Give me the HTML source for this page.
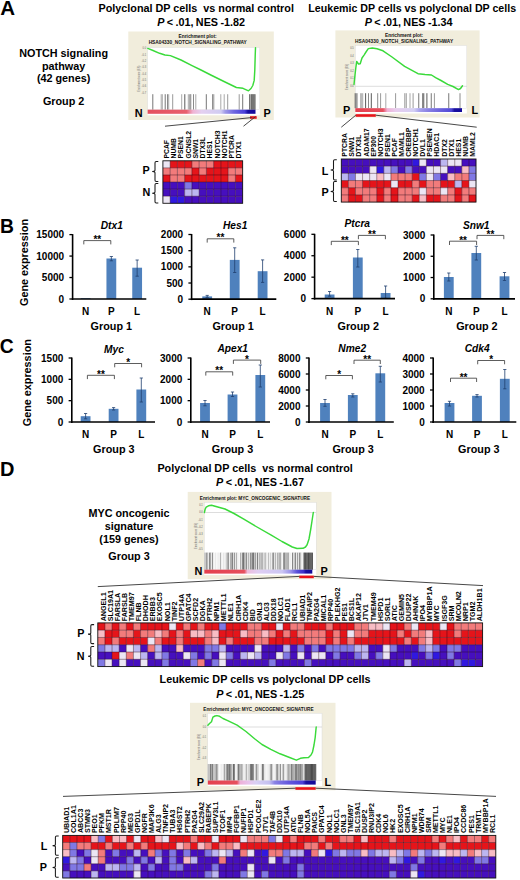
<!DOCTYPE html>
<html><head><meta charset="utf-8"><style>
html,body{margin:0;padding:0;background:#fff;}
svg{display:block;font-family:"Liberation Sans", sans-serif;}
</style></head><body>
<svg width="520" height="880" viewBox="0 0 520 880">
<rect x="0" y="0" width="520" height="880" fill="#fff"/>
<text x="0.20" y="14.50" font-size="20.5" font-weight="bold" text-anchor="start" fill="#000">A</text>
<text x="0.00" y="233.30" font-size="19.3" font-weight="bold" text-anchor="start" fill="#000">B</text>
<text x="-0.20" y="352.80" font-size="19.3" font-weight="bold" text-anchor="start" fill="#000">C</text>
<text x="0.00" y="475.90" font-size="20" font-weight="bold" text-anchor="start" fill="#000">D</text>
<text x="196.20" y="12.20" font-size="10.8" font-weight="bold" text-anchor="middle" fill="#000" xml:space="preserve">Polyclonal DP cells  vs normal control</text>
<text x="201.1" y="26.2" font-size="10.8" font-weight="bold" text-anchor="middle" word-spacing="-0.6"><tspan font-style="italic">P</tspan> &lt; .01, NES -1.82</text>
<text x="412.20" y="12.20" font-size="10.65" font-weight="bold" text-anchor="middle" fill="#000">Leukemic DP cells vs polyclonal DP cells</text>
<text x="408.6" y="26.2" font-size="10.8" font-weight="bold" text-anchor="middle" word-spacing="-0.6"><tspan font-style="italic">P</tspan> &lt; .01, NES -1.34</text>
<text x="63.60" y="57.30" font-size="10.8" font-weight="bold" text-anchor="middle" fill="#000">NOTCH signaling</text>
<text x="63.60" y="69.80" font-size="10.8" font-weight="bold" text-anchor="middle" fill="#000">pathway</text>
<text x="63.60" y="82.30" font-size="10.8" font-weight="bold" text-anchor="middle" fill="#000">(42 genes)</text>
<text x="63.60" y="104.50" font-size="10.8" font-weight="bold" text-anchor="middle" fill="#000">Group 2</text>
<rect x="128.30" y="31.50" width="145.50" height="88.50" fill="#f1eddc"/>
<rect x="147.60" y="47.50" width="112.20" height="67.80" fill="#ffffff"/>
<rect x="147.60" y="47.50" width="112.20" height="62.20" fill="none" stroke="#d8d8d8" stroke-width="0.4"/>
<text x="197.65" y="38.00" font-size="4.8" font-weight="bold" text-anchor="middle" fill="#111">Enrichment plot:</text>
<text x="197.65" y="44.40" font-size="4.8" font-weight="bold" text-anchor="middle" fill="#111">HSA04330_NOTCH_SIGNALING_PATHWAY</text>
<text x="146.10" y="49.40" font-size="2.6" font-weight="normal" text-anchor="end" fill="#666">0.0</text>
<text x="146.10" y="55.70" font-size="2.6" font-weight="normal" text-anchor="end" fill="#666">-0.1</text>
<text x="146.10" y="62.00" font-size="2.6" font-weight="normal" text-anchor="end" fill="#666">-0.2</text>
<text x="146.10" y="68.30" font-size="2.6" font-weight="normal" text-anchor="end" fill="#666">-0.3</text>
<text x="146.10" y="74.60" font-size="2.6" font-weight="normal" text-anchor="end" fill="#666">-0.4</text>
<text x="146.10" y="80.90" font-size="2.6" font-weight="normal" text-anchor="end" fill="#666">-0.5</text>
<text x="146.10" y="87.20" font-size="2.6" font-weight="normal" text-anchor="end" fill="#666">-0.6</text>
<text x="146.10" y="93.50" font-size="2.6" font-weight="normal" text-anchor="end" fill="#666">-0.7</text>
<text x="140.10" y="78.60" font-size="2.6" font-weight="normal" text-anchor="middle" fill="#666" transform="rotate(-90 140.10 78.60)">Enrichment score (ES)</text>
<rect x="152.30" y="94.20" width="1.00" height="15.50" fill="#777"/>
<rect x="160.70" y="94.20" width="1.00" height="15.50" fill="#aaa"/>
<rect x="161.80" y="94.20" width="1.00" height="15.50" fill="#aaa"/>
<rect x="164.70" y="94.20" width="1.00" height="15.50" fill="#777"/>
<rect x="167.00" y="94.20" width="1.00" height="15.50" fill="#8a8a8a"/>
<rect x="168.20" y="94.20" width="1.00" height="15.50" fill="#aaa"/>
<rect x="172.20" y="94.20" width="1.00" height="15.50" fill="#9a9a9a"/>
<rect x="181.20" y="94.20" width="1.00" height="15.50" fill="#aaa"/>
<rect x="184.30" y="94.20" width="1.00" height="15.50" fill="#5a5a5a"/>
<rect x="187.80" y="94.20" width="1.00" height="15.50" fill="#aaa"/>
<rect x="189.50" y="94.20" width="1.00" height="15.50" fill="#5a5a5a"/>
<rect x="190.30" y="94.20" width="1.00" height="15.50" fill="#9a9a9a"/>
<rect x="193.00" y="94.20" width="1.00" height="15.50" fill="#8a8a8a"/>
<rect x="195.30" y="94.20" width="1.00" height="15.50" fill="#aaa"/>
<rect x="205.80" y="94.20" width="1.00" height="15.50" fill="#777"/>
<rect x="212.20" y="94.20" width="1.00" height="15.50" fill="#777"/>
<rect x="213.30" y="94.20" width="1.00" height="15.50" fill="#9a9a9a"/>
<rect x="220.30" y="94.20" width="1.00" height="15.50" fill="#aaa"/>
<rect x="223.70" y="94.20" width="1.00" height="15.50" fill="#aaa"/>
<rect x="227.20" y="94.20" width="1.00" height="15.50" fill="#9a9a9a"/>
<rect x="238.70" y="94.20" width="1.00" height="15.50" fill="#9a9a9a"/>
<rect x="242.20" y="94.20" width="1.00" height="15.50" fill="#777"/>
<rect x="249.00" y="94.20" width="1.00" height="15.50" fill="#777"/>
<rect x="250.50" y="94.20" width="1.00" height="15.50" fill="#555"/>
<rect x="251.50" y="94.20" width="1.00" height="15.50" fill="#333"/>
<rect x="252.50" y="94.20" width="1.00" height="15.50" fill="#555"/>
<rect x="253.50" y="94.20" width="1.00" height="15.50" fill="#444"/>
<rect x="254.50" y="94.20" width="1.00" height="15.50" fill="#555"/>
<defs><linearGradient id="g1314" x1="0" x2="1" y1="0" y2="0"><stop offset="0" stop-color="#e4505e"/><stop offset="0.36" stop-color="#e8606e"/><stop offset="0.42" stop-color="#f0b4d4"/><stop offset="0.5" stop-color="#e4d0f0"/><stop offset="0.68" stop-color="#d0ccf2"/><stop offset="0.72" stop-color="#a09ae8"/><stop offset="0.8" stop-color="#7068e0"/><stop offset="0.9" stop-color="#4a40d8"/><stop offset="0.93" stop-color="#1a10a0"/><stop offset="1" stop-color="#12089a"/></linearGradient></defs>
<rect x="147.60" y="109.70" width="107.90" height="4.10" fill="url(#g1314)"/>
<polyline points="147.80,48.40 153.00,50.50 159.60,53.30 165.00,55.00 170.40,55.60 181.00,60.00 192.00,65.60 201.00,70.00 210.80,75.00 224.00,81.50 236.40,87.50 243.00,88.30 248.50,90.80 251.00,88.50 252.80,85.50 254.20,80.40 254.80,70.00 255.20,56.00 255.50,47.80" fill="none" stroke="#3ada3a" stroke-width="1.45" stroke-linejoin="round" stroke-linecap="round"/>
<text x="134.80" y="116.70" font-size="10.9" font-weight="bold" text-anchor="start" fill="#000">N</text>
<text x="263.40" y="116.50" font-size="10.9" font-weight="bold" text-anchor="start" fill="#000">P</text>
<rect x="250.00" y="116.20" width="6.70" height="2.60" fill="#e8141a"/>
<rect x="335.40" y="30.40" width="144.20" height="87.10" fill="#f1eddc"/>
<rect x="355.30" y="45.50" width="111.50" height="68.00" fill="#ffffff"/>
<rect x="355.30" y="45.50" width="111.50" height="62.70" fill="none" stroke="#d8d8d8" stroke-width="0.4"/>
<text x="404.10" y="36.80" font-size="4.8" font-weight="bold" text-anchor="middle" fill="#111">Enrichment plot:</text>
<text x="404.10" y="43.20" font-size="4.8" font-weight="bold" text-anchor="middle" fill="#111">HSA04330_NOTCH_SIGNALING_PATHWAY</text>
<text x="353.80" y="49.40" font-size="2.6" font-weight="normal" text-anchor="end" fill="#666">0.5</text>
<text x="353.80" y="56.90" font-size="2.6" font-weight="normal" text-anchor="end" fill="#666">0.4</text>
<text x="353.80" y="64.40" font-size="2.6" font-weight="normal" text-anchor="end" fill="#666">0.3</text>
<text x="353.80" y="71.90" font-size="2.6" font-weight="normal" text-anchor="end" fill="#666">0.2</text>
<text x="353.80" y="79.40" font-size="2.6" font-weight="normal" text-anchor="end" fill="#666">0.1</text>
<text x="353.80" y="87.20" font-size="2.6" font-weight="normal" text-anchor="end" fill="#666">0.0</text>
<text x="347.80" y="76.85" font-size="2.6" font-weight="normal" text-anchor="middle" fill="#666" transform="rotate(-90 347.80 76.85)">Enrichment score (ES)</text>
<line x1="355.30" y1="86.30" x2="466.80" y2="86.30" stroke="#bbbbbb" stroke-width="0.5"/>
<rect x="354.70" y="93.20" width="1.00" height="15.00" fill="#5a5a5a"/>
<rect x="356.40" y="93.20" width="1.00" height="15.00" fill="#5a5a5a"/>
<rect x="360.50" y="93.20" width="1.00" height="15.00" fill="#777"/>
<rect x="362.20" y="93.20" width="1.00" height="15.00" fill="#aaa"/>
<rect x="365.10" y="93.20" width="1.00" height="15.00" fill="#5a5a5a"/>
<rect x="368.00" y="93.20" width="1.00" height="15.00" fill="#8a8a8a"/>
<rect x="370.80" y="93.20" width="1.00" height="15.00" fill="#5a5a5a"/>
<rect x="377.20" y="93.20" width="1.00" height="15.00" fill="#8a8a8a"/>
<rect x="380.10" y="93.20" width="1.00" height="15.00" fill="#9a9a9a"/>
<rect x="385.30" y="93.20" width="1.00" height="15.00" fill="#aaa"/>
<rect x="395.10" y="93.20" width="1.00" height="15.00" fill="#9a9a9a"/>
<rect x="404.30" y="93.20" width="1.00" height="15.00" fill="#9a9a9a"/>
<rect x="405.75" y="93.20" width="1.00" height="15.00" fill="#9a9a9a"/>
<rect x="409.50" y="93.20" width="1.00" height="15.00" fill="#aaa"/>
<rect x="412.60" y="93.20" width="1.00" height="15.00" fill="#9a9a9a"/>
<rect x="418.25" y="93.20" width="1.00" height="15.00" fill="#777"/>
<rect x="422.00" y="93.20" width="1.00" height="15.00" fill="#8a8a8a"/>
<rect x="423.25" y="93.20" width="1.00" height="15.00" fill="#5a5a5a"/>
<rect x="426.40" y="93.20" width="1.00" height="15.00" fill="#5a5a5a"/>
<rect x="430.75" y="93.20" width="1.00" height="15.00" fill="#777"/>
<rect x="433.90" y="93.20" width="1.00" height="15.00" fill="#9a9a9a"/>
<rect x="448.25" y="93.20" width="1.00" height="15.00" fill="#777"/>
<rect x="459.50" y="93.20" width="1.00" height="15.00" fill="#8a8a8a"/>
<defs><linearGradient id="g3384" x1="0" x2="1" y1="0" y2="0"><stop offset="0" stop-color="#e4404e"/><stop offset="0.26" stop-color="#e6505e"/><stop offset="0.3" stop-color="#f0b0d4"/><stop offset="0.38" stop-color="#e8cdee"/><stop offset="0.55" stop-color="#d4d0f4"/><stop offset="0.6" stop-color="#a8a2ec"/><stop offset="0.68" stop-color="#8a82e4"/><stop offset="0.8" stop-color="#6a60dc"/><stop offset="0.9" stop-color="#5048d8"/><stop offset="0.93" stop-color="#1a10a0"/><stop offset="1" stop-color="#12089a"/></linearGradient></defs>
<rect x="355.30" y="108.20" width="106.70" height="3.80" fill="url(#g3384)"/>
<polyline points="354.00,84.40 355.00,75.00 355.80,68.00 356.70,61.50 358.50,64.00 360.20,63.70 362.00,58.00 364.20,54.80 366.00,52.00 368.30,48.60 372.30,48.00 377.00,48.80 383.00,50.80 392.00,57.00 404.60,66.40 418.00,73.70 425.00,74.50 431.50,75.00 435.60,77.70 441.00,80.50 447.70,84.40 453.00,86.50 458.50,89.60 460.50,88.50 462.50,85.80" fill="none" stroke="#3ada3a" stroke-width="1.45" stroke-linejoin="round" stroke-linecap="round"/>
<text x="343.00" y="114.00" font-size="10.9" font-weight="bold" text-anchor="start" fill="#000">P</text>
<text x="471.60" y="113.60" font-size="10.9" font-weight="bold" text-anchor="start" fill="#000">L</text>
<rect x="355.60" y="114.20" width="20.20" height="2.60" fill="#e8141a"/>
<line x1="165.00" y1="126.20" x2="251.60" y2="117.60" stroke="#333" stroke-width="0.9"/>
<line x1="243.50" y1="126.20" x2="255.50" y2="116.60" stroke="#333" stroke-width="0.9"/>
<line x1="341.30" y1="127.20" x2="355.80" y2="115.20" stroke="#333" stroke-width="0.9"/>
<line x1="476.70" y1="127.20" x2="375.80" y2="115.20" stroke="#333" stroke-width="0.9"/>
<g>
<rect x="162.90" y="160.80" width="7.30" height="7.13" fill="#ece6f4"/>
<rect x="170.15" y="160.80" width="7.30" height="7.13" fill="#e5141a"/>
<rect x="177.40" y="160.80" width="7.30" height="7.13" fill="#e5141a"/>
<rect x="184.65" y="160.80" width="7.30" height="7.13" fill="#e5141a"/>
<rect x="191.90" y="160.80" width="7.30" height="7.13" fill="#f27b7b"/>
<rect x="199.15" y="160.80" width="7.30" height="7.13" fill="#f27b7b"/>
<rect x="206.40" y="160.80" width="7.30" height="7.13" fill="#f27b7b"/>
<rect x="213.65" y="160.80" width="7.30" height="7.13" fill="#e5141a"/>
<rect x="220.90" y="160.80" width="7.30" height="7.13" fill="#e5141a"/>
<rect x="228.15" y="160.80" width="7.30" height="7.13" fill="#e5141a"/>
<rect x="235.40" y="160.80" width="7.30" height="7.13" fill="#e5141a"/>
<rect x="162.90" y="167.88" width="7.30" height="7.13" fill="#f27b7b"/>
<rect x="170.15" y="167.88" width="7.30" height="7.13" fill="#f27b7b"/>
<rect x="177.40" y="167.88" width="7.30" height="7.13" fill="#f27b7b"/>
<rect x="184.65" y="167.88" width="7.30" height="7.13" fill="#f27b7b"/>
<rect x="191.90" y="167.88" width="7.30" height="7.13" fill="#e5141a"/>
<rect x="199.15" y="167.88" width="7.30" height="7.13" fill="#f27b7b"/>
<rect x="206.40" y="167.88" width="7.30" height="7.13" fill="#e5141a"/>
<rect x="213.65" y="167.88" width="7.30" height="7.13" fill="#e5141a"/>
<rect x="220.90" y="167.88" width="7.30" height="7.13" fill="#e5141a"/>
<rect x="228.15" y="167.88" width="7.30" height="7.13" fill="#f27b7b"/>
<rect x="235.40" y="167.88" width="7.30" height="7.13" fill="#f27b7b"/>
<rect x="162.90" y="174.96" width="7.30" height="7.13" fill="#e5141a"/>
<rect x="170.15" y="174.96" width="7.30" height="7.13" fill="#f27b7b"/>
<rect x="177.40" y="174.96" width="7.30" height="7.13" fill="#f27b7b"/>
<rect x="184.65" y="174.96" width="7.30" height="7.13" fill="#e5141a"/>
<rect x="191.90" y="174.96" width="7.30" height="7.13" fill="#e5141a"/>
<rect x="199.15" y="174.96" width="7.30" height="7.13" fill="#e5141a"/>
<rect x="206.40" y="174.96" width="7.30" height="7.13" fill="#e5141a"/>
<rect x="213.65" y="174.96" width="7.30" height="7.13" fill="#e5141a"/>
<rect x="220.90" y="174.96" width="7.30" height="7.13" fill="#e5141a"/>
<rect x="228.15" y="174.96" width="7.30" height="7.13" fill="#f27b7b"/>
<rect x="235.40" y="174.96" width="7.30" height="7.13" fill="#e5141a"/>
<rect x="162.90" y="182.04" width="7.30" height="7.13" fill="#460fbe"/>
<rect x="170.15" y="182.04" width="7.30" height="7.13" fill="#460fbe"/>
<rect x="177.40" y="182.04" width="7.30" height="7.13" fill="#460fbe"/>
<rect x="184.65" y="182.04" width="7.30" height="7.13" fill="#8078e4"/>
<rect x="191.90" y="182.04" width="7.30" height="7.13" fill="#460fbe"/>
<rect x="199.15" y="182.04" width="7.30" height="7.13" fill="#460fbe"/>
<rect x="206.40" y="182.04" width="7.30" height="7.13" fill="#460fbe"/>
<rect x="213.65" y="182.04" width="7.30" height="7.13" fill="#460fbe"/>
<rect x="220.90" y="182.04" width="7.30" height="7.13" fill="#460fbe"/>
<rect x="228.15" y="182.04" width="7.30" height="7.13" fill="#460fbe"/>
<rect x="235.40" y="182.04" width="7.30" height="7.13" fill="#460fbe"/>
<rect x="162.90" y="189.12" width="7.30" height="7.13" fill="#460fbe"/>
<rect x="170.15" y="189.12" width="7.30" height="7.13" fill="#460fbe"/>
<rect x="177.40" y="189.12" width="7.30" height="7.13" fill="#460fbe"/>
<rect x="184.65" y="189.12" width="7.30" height="7.13" fill="#bcb6f0"/>
<rect x="191.90" y="189.12" width="7.30" height="7.13" fill="#bcb6f0"/>
<rect x="199.15" y="189.12" width="7.30" height="7.13" fill="#460fbe"/>
<rect x="206.40" y="189.12" width="7.30" height="7.13" fill="#460fbe"/>
<rect x="213.65" y="189.12" width="7.30" height="7.13" fill="#460fbe"/>
<rect x="220.90" y="189.12" width="7.30" height="7.13" fill="#460fbe"/>
<rect x="228.15" y="189.12" width="7.30" height="7.13" fill="#460fbe"/>
<rect x="235.40" y="189.12" width="7.30" height="7.13" fill="#460fbe"/>
<rect x="162.90" y="196.20" width="7.30" height="7.13" fill="#ece6f4"/>
<rect x="170.15" y="196.20" width="7.30" height="7.13" fill="#3018e0"/>
<rect x="177.40" y="196.20" width="7.30" height="7.13" fill="#3018e0"/>
<rect x="184.65" y="196.20" width="7.30" height="7.13" fill="#460fbe"/>
<rect x="191.90" y="196.20" width="7.30" height="7.13" fill="#460fbe"/>
<rect x="199.15" y="196.20" width="7.30" height="7.13" fill="#460fbe"/>
<rect x="206.40" y="196.20" width="7.30" height="7.13" fill="#460fbe"/>
<rect x="213.65" y="196.20" width="7.30" height="7.13" fill="#460fbe"/>
<rect x="220.90" y="196.20" width="7.30" height="7.13" fill="#460fbe"/>
<rect x="228.15" y="196.20" width="7.30" height="7.13" fill="#460fbe"/>
<rect x="235.40" y="196.20" width="7.30" height="7.13" fill="#460fbe"/>
<path d="M170.15,160.80V203.28M177.40,160.80V203.28M184.65,160.80V203.28M191.90,160.80V203.28M199.15,160.80V203.28M206.40,160.80V203.28M213.65,160.80V203.28M220.90,160.80V203.28M228.15,160.80V203.28M235.40,160.80V203.28M162.90,167.88H242.65M162.90,174.96H242.65M162.90,182.04H242.65M162.90,189.12H242.65M162.90,196.20H242.65" stroke="rgba(40,0,20,0.55)" stroke-width="0.75" fill="none"/>
<rect x="162.90" y="160.80" width="79.75" height="42.48" fill="none" stroke="#111" stroke-width="0.9"/>
</g>
<text x="168.97" y="158.50" font-size="6.8" font-weight="bold" text-anchor="start" fill="#000" transform="rotate(-90 168.97 158.50)">PCAF</text>
<text x="176.22" y="158.50" font-size="6.8" font-weight="bold" text-anchor="start" fill="#000" transform="rotate(-90 176.22 158.50)">NUMB</text>
<text x="183.47" y="158.50" font-size="6.8" font-weight="bold" text-anchor="start" fill="#000" transform="rotate(-90 183.47 158.50)">PSEN1</text>
<text x="190.72" y="158.50" font-size="6.8" font-weight="bold" text-anchor="start" fill="#000" transform="rotate(-90 190.72 158.50)">GCNSL2</text>
<text x="197.97" y="158.50" font-size="6.8" font-weight="bold" text-anchor="start" fill="#000" transform="rotate(-90 197.97 158.50)">SNW1</text>
<text x="205.22" y="158.50" font-size="6.8" font-weight="bold" text-anchor="start" fill="#000" transform="rotate(-90 205.22 158.50)">DTX3L</text>
<text x="212.47" y="158.50" font-size="6.8" font-weight="bold" text-anchor="start" fill="#000" transform="rotate(-90 212.47 158.50)">HES1</text>
<text x="219.72" y="158.50" font-size="6.8" font-weight="bold" text-anchor="start" fill="#000" transform="rotate(-90 219.72 158.50)">NOTCH3</text>
<text x="226.97" y="158.50" font-size="6.8" font-weight="bold" text-anchor="start" fill="#000" transform="rotate(-90 226.97 158.50)">NOTCH1</text>
<text x="234.22" y="158.50" font-size="6.8" font-weight="bold" text-anchor="start" fill="#000" transform="rotate(-90 234.22 158.50)">PTCRA</text>
<text x="241.47" y="158.50" font-size="6.8" font-weight="bold" text-anchor="start" fill="#000" transform="rotate(-90 241.47 158.50)">DTX1</text>
<text x="142.60" y="174.20" font-size="10.8" font-weight="bold" text-anchor="start" fill="#000">P</text>
<text x="142.60" y="196.00" font-size="10.8" font-weight="bold" text-anchor="start" fill="#000">N</text>
<path d="M158.30,161.50 L156.20,161.50 Q155.00,161.50 155.00,162.70 L155.00,170.30 Q155.00,171.50 152.20,171.50 Q155.00,171.50 155.00,172.70 L155.00,180.30 Q155.00,181.50 156.20,181.50 L158.30,181.50" fill="none" stroke="#1a1a1a" stroke-width="1.05"/>
<path d="M158.30,183.50 L156.20,183.50 Q155.00,183.50 155.00,184.70 L155.00,192.05 Q155.00,193.25 152.20,193.25 Q155.00,193.25 155.00,194.45 L155.00,201.80 Q155.00,203.00 156.20,203.00 L158.30,203.00" fill="none" stroke="#1a1a1a" stroke-width="1.05"/>
<g>
<rect x="341.30" y="159.00" width="7.14" height="7.23" fill="#460fbe"/>
<rect x="348.39" y="159.00" width="7.14" height="7.23" fill="#460fbe"/>
<rect x="355.48" y="159.00" width="7.14" height="7.23" fill="#460fbe"/>
<rect x="362.57" y="159.00" width="7.14" height="7.23" fill="#460fbe"/>
<rect x="369.66" y="159.00" width="7.14" height="7.23" fill="#460fbe"/>
<rect x="376.75" y="159.00" width="7.14" height="7.23" fill="#460fbe"/>
<rect x="383.84" y="159.00" width="7.14" height="7.23" fill="#460fbe"/>
<rect x="390.93" y="159.00" width="7.14" height="7.23" fill="#460fbe"/>
<rect x="398.02" y="159.00" width="7.14" height="7.23" fill="#460fbe"/>
<rect x="405.11" y="159.00" width="7.14" height="7.23" fill="#460fbe"/>
<rect x="412.20" y="159.00" width="7.14" height="7.23" fill="#3018e0"/>
<rect x="419.29" y="159.00" width="7.14" height="7.23" fill="#ece6f4"/>
<rect x="426.38" y="159.00" width="7.14" height="7.23" fill="#460fbe"/>
<rect x="433.47" y="159.00" width="7.14" height="7.23" fill="#460fbe"/>
<rect x="440.56" y="159.00" width="7.14" height="7.23" fill="#bcb6f0"/>
<rect x="447.65" y="159.00" width="7.14" height="7.23" fill="#ece6f4"/>
<rect x="454.74" y="159.00" width="7.14" height="7.23" fill="#ece6f4"/>
<rect x="461.83" y="159.00" width="7.14" height="7.23" fill="#460fbe"/>
<rect x="468.92" y="159.00" width="7.14" height="7.23" fill="#460fbe"/>
<rect x="341.30" y="166.18" width="7.14" height="7.23" fill="#460fbe"/>
<rect x="348.39" y="166.18" width="7.14" height="7.23" fill="#460fbe"/>
<rect x="355.48" y="166.18" width="7.14" height="7.23" fill="#460fbe"/>
<rect x="362.57" y="166.18" width="7.14" height="7.23" fill="#460fbe"/>
<rect x="369.66" y="166.18" width="7.14" height="7.23" fill="#ece6f4"/>
<rect x="376.75" y="166.18" width="7.14" height="7.23" fill="#3018e0"/>
<rect x="383.84" y="166.18" width="7.14" height="7.23" fill="#bcb6f0"/>
<rect x="390.93" y="166.18" width="7.14" height="7.23" fill="#8078e4"/>
<rect x="398.02" y="166.18" width="7.14" height="7.23" fill="#460fbe"/>
<rect x="405.11" y="166.18" width="7.14" height="7.23" fill="#8078e4"/>
<rect x="412.20" y="166.18" width="7.14" height="7.23" fill="#460fbe"/>
<rect x="419.29" y="166.18" width="7.14" height="7.23" fill="#460fbe"/>
<rect x="426.38" y="166.18" width="7.14" height="7.23" fill="#ece6f4"/>
<rect x="433.47" y="166.18" width="7.14" height="7.23" fill="#ece6f4"/>
<rect x="440.56" y="166.18" width="7.14" height="7.23" fill="#ece6f4"/>
<rect x="447.65" y="166.18" width="7.14" height="7.23" fill="#460fbe"/>
<rect x="454.74" y="166.18" width="7.14" height="7.23" fill="#460fbe"/>
<rect x="461.83" y="166.18" width="7.14" height="7.23" fill="#f8bcc4"/>
<rect x="468.92" y="166.18" width="7.14" height="7.23" fill="#8078e4"/>
<rect x="341.30" y="173.36" width="7.14" height="7.23" fill="#bcb6f0"/>
<rect x="348.39" y="173.36" width="7.14" height="7.23" fill="#8078e4"/>
<rect x="355.48" y="173.36" width="7.14" height="7.23" fill="#ece6f4"/>
<rect x="362.57" y="173.36" width="7.14" height="7.23" fill="#ece6f4"/>
<rect x="369.66" y="173.36" width="7.14" height="7.23" fill="#ece6f4"/>
<rect x="376.75" y="173.36" width="7.14" height="7.23" fill="#f8bcc4"/>
<rect x="383.84" y="173.36" width="7.14" height="7.23" fill="#ece6f4"/>
<rect x="390.93" y="173.36" width="7.14" height="7.23" fill="#f27b7b"/>
<rect x="398.02" y="173.36" width="7.14" height="7.23" fill="#f27b7b"/>
<rect x="405.11" y="173.36" width="7.14" height="7.23" fill="#f27b7b"/>
<rect x="412.20" y="173.36" width="7.14" height="7.23" fill="#e5141a"/>
<rect x="419.29" y="173.36" width="7.14" height="7.23" fill="#8078e4"/>
<rect x="426.38" y="173.36" width="7.14" height="7.23" fill="#ece6f4"/>
<rect x="433.47" y="173.36" width="7.14" height="7.23" fill="#8078e4"/>
<rect x="440.56" y="173.36" width="7.14" height="7.23" fill="#460fbe"/>
<rect x="447.65" y="173.36" width="7.14" height="7.23" fill="#f8bcc4"/>
<rect x="454.74" y="173.36" width="7.14" height="7.23" fill="#f27b7b"/>
<rect x="461.83" y="173.36" width="7.14" height="7.23" fill="#f27b7b"/>
<rect x="468.92" y="173.36" width="7.14" height="7.23" fill="#8078e4"/>
<rect x="341.30" y="180.54" width="7.14" height="7.23" fill="#e5141a"/>
<rect x="348.39" y="180.54" width="7.14" height="7.23" fill="#f27b7b"/>
<rect x="355.48" y="180.54" width="7.14" height="7.23" fill="#f27b7b"/>
<rect x="362.57" y="180.54" width="7.14" height="7.23" fill="#e5141a"/>
<rect x="369.66" y="180.54" width="7.14" height="7.23" fill="#e5141a"/>
<rect x="376.75" y="180.54" width="7.14" height="7.23" fill="#e5141a"/>
<rect x="383.84" y="180.54" width="7.14" height="7.23" fill="#e5141a"/>
<rect x="390.93" y="180.54" width="7.14" height="7.23" fill="#ece6f4"/>
<rect x="398.02" y="180.54" width="7.14" height="7.23" fill="#e5141a"/>
<rect x="405.11" y="180.54" width="7.14" height="7.23" fill="#e5141a"/>
<rect x="412.20" y="180.54" width="7.14" height="7.23" fill="#f27b7b"/>
<rect x="419.29" y="180.54" width="7.14" height="7.23" fill="#e5141a"/>
<rect x="426.38" y="180.54" width="7.14" height="7.23" fill="#f27b7b"/>
<rect x="433.47" y="180.54" width="7.14" height="7.23" fill="#f27b7b"/>
<rect x="440.56" y="180.54" width="7.14" height="7.23" fill="#e5141a"/>
<rect x="447.65" y="180.54" width="7.14" height="7.23" fill="#e5141a"/>
<rect x="454.74" y="180.54" width="7.14" height="7.23" fill="#bcb6f0"/>
<rect x="461.83" y="180.54" width="7.14" height="7.23" fill="#e5141a"/>
<rect x="468.92" y="180.54" width="7.14" height="7.23" fill="#ece6f4"/>
<rect x="341.30" y="187.72" width="7.14" height="7.23" fill="#f27b7b"/>
<rect x="348.39" y="187.72" width="7.14" height="7.23" fill="#e5141a"/>
<rect x="355.48" y="187.72" width="7.14" height="7.23" fill="#f27b7b"/>
<rect x="362.57" y="187.72" width="7.14" height="7.23" fill="#f27b7b"/>
<rect x="369.66" y="187.72" width="7.14" height="7.23" fill="#f27b7b"/>
<rect x="376.75" y="187.72" width="7.14" height="7.23" fill="#e5141a"/>
<rect x="383.84" y="187.72" width="7.14" height="7.23" fill="#f27b7b"/>
<rect x="390.93" y="187.72" width="7.14" height="7.23" fill="#e5141a"/>
<rect x="398.02" y="187.72" width="7.14" height="7.23" fill="#f27b7b"/>
<rect x="405.11" y="187.72" width="7.14" height="7.23" fill="#f27b7b"/>
<rect x="412.20" y="187.72" width="7.14" height="7.23" fill="#f27b7b"/>
<rect x="419.29" y="187.72" width="7.14" height="7.23" fill="#ece6f4"/>
<rect x="426.38" y="187.72" width="7.14" height="7.23" fill="#f27b7b"/>
<rect x="433.47" y="187.72" width="7.14" height="7.23" fill="#f27b7b"/>
<rect x="440.56" y="187.72" width="7.14" height="7.23" fill="#ece6f4"/>
<rect x="447.65" y="187.72" width="7.14" height="7.23" fill="#f27b7b"/>
<rect x="454.74" y="187.72" width="7.14" height="7.23" fill="#e5141a"/>
<rect x="461.83" y="187.72" width="7.14" height="7.23" fill="#f27b7b"/>
<rect x="468.92" y="187.72" width="7.14" height="7.23" fill="#f27b7b"/>
<rect x="341.30" y="194.90" width="7.14" height="7.23" fill="#f27b7b"/>
<rect x="348.39" y="194.90" width="7.14" height="7.23" fill="#e5141a"/>
<rect x="355.48" y="194.90" width="7.14" height="7.23" fill="#e5141a"/>
<rect x="362.57" y="194.90" width="7.14" height="7.23" fill="#f27b7b"/>
<rect x="369.66" y="194.90" width="7.14" height="7.23" fill="#f27b7b"/>
<rect x="376.75" y="194.90" width="7.14" height="7.23" fill="#e5141a"/>
<rect x="383.84" y="194.90" width="7.14" height="7.23" fill="#f27b7b"/>
<rect x="390.93" y="194.90" width="7.14" height="7.23" fill="#e5141a"/>
<rect x="398.02" y="194.90" width="7.14" height="7.23" fill="#f27b7b"/>
<rect x="405.11" y="194.90" width="7.14" height="7.23" fill="#f27b7b"/>
<rect x="412.20" y="194.90" width="7.14" height="7.23" fill="#e5141a"/>
<rect x="419.29" y="194.90" width="7.14" height="7.23" fill="#f8bcc4"/>
<rect x="426.38" y="194.90" width="7.14" height="7.23" fill="#e5141a"/>
<rect x="433.47" y="194.90" width="7.14" height="7.23" fill="#e5141a"/>
<rect x="440.56" y="194.90" width="7.14" height="7.23" fill="#f27b7b"/>
<rect x="447.65" y="194.90" width="7.14" height="7.23" fill="#f27b7b"/>
<rect x="454.74" y="194.90" width="7.14" height="7.23" fill="#e5141a"/>
<rect x="461.83" y="194.90" width="7.14" height="7.23" fill="#f27b7b"/>
<rect x="468.92" y="194.90" width="7.14" height="7.23" fill="#e5141a"/>
<path d="M348.39,159.00V202.08M355.48,159.00V202.08M362.57,159.00V202.08M369.66,159.00V202.08M376.75,159.00V202.08M383.84,159.00V202.08M390.93,159.00V202.08M398.02,159.00V202.08M405.11,159.00V202.08M412.20,159.00V202.08M419.29,159.00V202.08M426.38,159.00V202.08M433.47,159.00V202.08M440.56,159.00V202.08M447.65,159.00V202.08M454.74,159.00V202.08M461.83,159.00V202.08M468.92,159.00V202.08M341.30,166.18H476.01M341.30,173.36H476.01M341.30,180.54H476.01M341.30,187.72H476.01M341.30,194.90H476.01" stroke="rgba(40,0,20,0.55)" stroke-width="0.75" fill="none"/>
<rect x="341.30" y="159.00" width="134.71" height="43.08" fill="none" stroke="#111" stroke-width="0.9"/>
</g>
<text x="347.33" y="156.70" font-size="6.9" font-weight="bold" text-anchor="start" fill="#000" transform="rotate(-90 347.33 156.70)">PTCRA</text>
<text x="354.42" y="156.70" font-size="6.9" font-weight="bold" text-anchor="start" fill="#000" transform="rotate(-90 354.42 156.70)">SNW1</text>
<text x="361.51" y="156.70" font-size="6.9" font-weight="bold" text-anchor="start" fill="#000" transform="rotate(-90 361.51 156.70)">DTX3L</text>
<text x="368.60" y="156.70" font-size="6.9" font-weight="bold" text-anchor="start" fill="#000" transform="rotate(-90 368.60 156.70)">ADAM17</text>
<text x="375.69" y="156.70" font-size="6.9" font-weight="bold" text-anchor="start" fill="#000" transform="rotate(-90 375.69 156.70)">EP300</text>
<text x="382.78" y="156.70" font-size="6.9" font-weight="bold" text-anchor="start" fill="#000" transform="rotate(-90 382.78 156.70)">NOTCH3</text>
<text x="389.87" y="156.70" font-size="6.9" font-weight="bold" text-anchor="start" fill="#000" transform="rotate(-90 389.87 156.70)">PSEN1</text>
<text x="396.96" y="156.70" font-size="6.9" font-weight="bold" text-anchor="start" fill="#000" transform="rotate(-90 396.96 156.70)">PCAF</text>
<text x="404.05" y="156.70" font-size="6.9" font-weight="bold" text-anchor="start" fill="#000" transform="rotate(-90 404.05 156.70)">MAML1</text>
<text x="411.14" y="156.70" font-size="6.9" font-weight="bold" text-anchor="start" fill="#000" transform="rotate(-90 411.14 156.70)">CREBBP</text>
<text x="418.23" y="156.70" font-size="6.9" font-weight="bold" text-anchor="start" fill="#000" transform="rotate(-90 418.23 156.70)">NOTCH1</text>
<text x="425.32" y="156.70" font-size="6.9" font-weight="bold" text-anchor="start" fill="#000" transform="rotate(-90 425.32 156.70)">DVL1</text>
<text x="432.41" y="156.70" font-size="6.9" font-weight="bold" text-anchor="start" fill="#000" transform="rotate(-90 432.41 156.70)">PSENEN</text>
<text x="439.50" y="156.70" font-size="6.9" font-weight="bold" text-anchor="start" fill="#000" transform="rotate(-90 439.50 156.70)">HDAC1</text>
<text x="446.59" y="156.70" font-size="6.9" font-weight="bold" text-anchor="start" fill="#000" transform="rotate(-90 446.59 156.70)">DTX2</text>
<text x="453.68" y="156.70" font-size="6.9" font-weight="bold" text-anchor="start" fill="#000" transform="rotate(-90 453.68 156.70)">DTX1</text>
<text x="460.77" y="156.70" font-size="6.9" font-weight="bold" text-anchor="start" fill="#000" transform="rotate(-90 460.77 156.70)">HES1</text>
<text x="467.86" y="156.70" font-size="6.9" font-weight="bold" text-anchor="start" fill="#000" transform="rotate(-90 467.86 156.70)">NUMB</text>
<text x="474.95" y="156.70" font-size="6.9" font-weight="bold" text-anchor="start" fill="#000" transform="rotate(-90 474.95 156.70)">MAML2</text>
<text x="321.80" y="175.20" font-size="10.8" font-weight="bold" text-anchor="start" fill="#000">L</text>
<text x="321.60" y="195.60" font-size="10.8" font-weight="bold" text-anchor="start" fill="#000">P</text>
<path d="M336.80,159.80 L334.70,159.80 Q333.50,159.80 333.50,161.00 L333.50,168.70 Q333.50,169.90 330.70,169.90 Q333.50,169.90 333.50,171.10 L333.50,178.80 Q333.50,180.00 334.70,180.00 L336.80,180.00" fill="none" stroke="#1a1a1a" stroke-width="1.05"/>
<path d="M336.80,181.50 L334.70,181.50 Q333.50,181.50 333.50,182.70 L333.50,190.30 Q333.50,191.50 330.70,191.50 Q333.50,191.50 333.50,192.70 L333.50,200.30 Q333.50,201.50 334.70,201.50 L336.80,201.50" fill="none" stroke="#1a1a1a" stroke-width="1.05"/>
<rect x="80.70" y="298.20" width="9.80" height="0.80" fill="#4f81bd"/>
<rect x="106.45" y="258.50" width="9.80" height="40.50" fill="#4f81bd"/>
<line x1="111.35" y1="256.50" x2="111.35" y2="260.80" stroke="#1f3f6f" stroke-width="0.8"/>
<line x1="109.75" y1="256.50" x2="112.95" y2="256.50" stroke="#1f3f6f" stroke-width="0.8"/>
<line x1="109.75" y1="260.80" x2="112.95" y2="260.80" stroke="#1f3f6f" stroke-width="0.8"/>
<rect x="132.25" y="267.70" width="9.80" height="31.30" fill="#4f81bd"/>
<line x1="137.15" y1="260.00" x2="137.15" y2="276.20" stroke="#1f3f6f" stroke-width="0.8"/>
<line x1="135.55" y1="260.00" x2="138.75" y2="260.00" stroke="#1f3f6f" stroke-width="0.8"/>
<line x1="135.55" y1="276.20" x2="138.75" y2="276.20" stroke="#1f3f6f" stroke-width="0.8"/>
<line x1="72.60" y1="234.10" x2="72.60" y2="299.90" stroke="#000" stroke-width="1.6"/>
<line x1="71.80" y1="299.00" x2="146.30" y2="299.00" stroke="#000" stroke-width="1.7"/>
<line x1="69.40" y1="299.00" x2="72.60" y2="299.00" stroke="#000" stroke-width="1.3"/>
<text x="64.10" y="302.50" font-size="10" font-weight="bold" text-anchor="end" fill="#000">0</text>
<line x1="69.40" y1="277.53" x2="72.60" y2="277.53" stroke="#000" stroke-width="1.3"/>
<text x="64.10" y="281.03" font-size="10" font-weight="bold" text-anchor="end" fill="#000">5000</text>
<line x1="69.40" y1="256.07" x2="72.60" y2="256.07" stroke="#000" stroke-width="1.3"/>
<text x="64.10" y="259.57" font-size="10" font-weight="bold" text-anchor="end" fill="#000">10000</text>
<line x1="69.40" y1="234.60" x2="72.60" y2="234.60" stroke="#000" stroke-width="1.3"/>
<text x="64.10" y="238.10" font-size="10" font-weight="bold" text-anchor="end" fill="#000">15000</text>
<text x="85.60" y="314.60" font-size="10" font-weight="bold" text-anchor="middle" fill="#000">N</text>
<text x="111.35" y="314.60" font-size="10" font-weight="bold" text-anchor="middle" fill="#000">P</text>
<text x="137.15" y="314.60" font-size="10" font-weight="bold" text-anchor="middle" fill="#000">L</text>
<text x="111.30" y="329.50" font-size="10.8" font-weight="bold" text-anchor="middle" fill="#000">Group 1</text>
<text x="111.80" y="228.80" font-size="10.2" font-weight="bold" text-anchor="middle" fill="#000" font-style="italic">Dtx1</text>
<path d="M83.80,244.40 L83.80,240.60 L110.80,240.60 L110.80,244.40" fill="none" stroke="#333" stroke-width="0.8"/>
<text x="97.30" y="243.00" font-size="10" font-weight="bold" text-anchor="middle" fill="#000">**</text>
<rect x="202.30" y="296.40" width="9.80" height="2.80" fill="#4f81bd"/>
<line x1="207.20" y1="295.40" x2="207.20" y2="297.40" stroke="#1f3f6f" stroke-width="0.8"/>
<line x1="205.60" y1="295.40" x2="208.80" y2="295.40" stroke="#1f3f6f" stroke-width="0.8"/>
<line x1="205.60" y1="297.40" x2="208.80" y2="297.40" stroke="#1f3f6f" stroke-width="0.8"/>
<rect x="229.80" y="259.90" width="9.80" height="39.30" fill="#4f81bd"/>
<line x1="234.70" y1="247.80" x2="234.70" y2="272.50" stroke="#1f3f6f" stroke-width="0.8"/>
<line x1="233.10" y1="247.80" x2="236.30" y2="247.80" stroke="#1f3f6f" stroke-width="0.8"/>
<line x1="233.10" y1="272.50" x2="236.30" y2="272.50" stroke="#1f3f6f" stroke-width="0.8"/>
<rect x="257.70" y="271.20" width="9.80" height="28.00" fill="#4f81bd"/>
<line x1="262.60" y1="259.90" x2="262.60" y2="282.40" stroke="#1f3f6f" stroke-width="0.8"/>
<line x1="261.00" y1="259.90" x2="264.20" y2="259.90" stroke="#1f3f6f" stroke-width="0.8"/>
<line x1="261.00" y1="282.40" x2="264.20" y2="282.40" stroke="#1f3f6f" stroke-width="0.8"/>
<line x1="191.60" y1="234.00" x2="191.60" y2="300.10" stroke="#000" stroke-width="1.6"/>
<line x1="190.80" y1="299.20" x2="276.30" y2="299.20" stroke="#000" stroke-width="1.7"/>
<line x1="188.40" y1="299.20" x2="191.60" y2="299.20" stroke="#000" stroke-width="1.3"/>
<text x="183.10" y="302.70" font-size="10" font-weight="bold" text-anchor="end" fill="#000">0</text>
<line x1="188.40" y1="283.02" x2="191.60" y2="283.02" stroke="#000" stroke-width="1.3"/>
<text x="183.10" y="286.52" font-size="10" font-weight="bold" text-anchor="end" fill="#000">500</text>
<line x1="188.40" y1="266.85" x2="191.60" y2="266.85" stroke="#000" stroke-width="1.3"/>
<text x="183.10" y="270.35" font-size="10" font-weight="bold" text-anchor="end" fill="#000">1000</text>
<line x1="188.40" y1="250.68" x2="191.60" y2="250.68" stroke="#000" stroke-width="1.3"/>
<text x="183.10" y="254.18" font-size="10" font-weight="bold" text-anchor="end" fill="#000">1500</text>
<line x1="188.40" y1="234.50" x2="191.60" y2="234.50" stroke="#000" stroke-width="1.3"/>
<text x="183.10" y="238.00" font-size="10" font-weight="bold" text-anchor="end" fill="#000">2000</text>
<text x="207.20" y="314.60" font-size="10" font-weight="bold" text-anchor="middle" fill="#000">N</text>
<text x="234.70" y="314.60" font-size="10" font-weight="bold" text-anchor="middle" fill="#000">P</text>
<text x="262.60" y="314.60" font-size="10" font-weight="bold" text-anchor="middle" fill="#000">L</text>
<text x="233.10" y="329.50" font-size="10.8" font-weight="bold" text-anchor="middle" fill="#000">Group 1</text>
<text x="235.20" y="228.70" font-size="10.2" font-weight="bold" text-anchor="middle" fill="#000" font-style="italic">Hes1</text>
<path d="M207.20,242.60 L207.20,238.80 L233.80,238.80 L233.80,242.60" fill="none" stroke="#333" stroke-width="0.8"/>
<text x="220.50" y="241.20" font-size="10" font-weight="bold" text-anchor="middle" fill="#000">**</text>
<rect x="324.70" y="294.50" width="9.80" height="4.10" fill="#4f81bd"/>
<line x1="329.60" y1="291.50" x2="329.60" y2="296.20" stroke="#1f3f6f" stroke-width="0.8"/>
<line x1="328.00" y1="291.50" x2="331.20" y2="291.50" stroke="#1f3f6f" stroke-width="0.8"/>
<line x1="328.00" y1="296.20" x2="331.20" y2="296.20" stroke="#1f3f6f" stroke-width="0.8"/>
<rect x="352.90" y="257.50" width="9.80" height="41.10" fill="#4f81bd"/>
<line x1="357.80" y1="249.50" x2="357.80" y2="267.00" stroke="#1f3f6f" stroke-width="0.8"/>
<line x1="356.20" y1="249.50" x2="359.40" y2="249.50" stroke="#1f3f6f" stroke-width="0.8"/>
<line x1="356.20" y1="267.00" x2="359.40" y2="267.00" stroke="#1f3f6f" stroke-width="0.8"/>
<rect x="380.70" y="293.00" width="9.80" height="5.60" fill="#4f81bd"/>
<line x1="385.60" y1="286.00" x2="385.60" y2="298.40" stroke="#1f3f6f" stroke-width="0.8"/>
<line x1="384.00" y1="286.00" x2="387.20" y2="286.00" stroke="#1f3f6f" stroke-width="0.8"/>
<line x1="384.00" y1="298.40" x2="387.20" y2="298.40" stroke="#1f3f6f" stroke-width="0.8"/>
<line x1="314.60" y1="233.80" x2="314.60" y2="299.50" stroke="#000" stroke-width="1.6"/>
<line x1="313.80" y1="298.60" x2="395.00" y2="298.60" stroke="#000" stroke-width="1.7"/>
<line x1="311.40" y1="298.60" x2="314.60" y2="298.60" stroke="#000" stroke-width="1.3"/>
<text x="306.10" y="302.10" font-size="10" font-weight="bold" text-anchor="end" fill="#000">0</text>
<line x1="311.40" y1="277.17" x2="314.60" y2="277.17" stroke="#000" stroke-width="1.3"/>
<text x="306.10" y="280.67" font-size="10" font-weight="bold" text-anchor="end" fill="#000">2000</text>
<line x1="311.40" y1="255.73" x2="314.60" y2="255.73" stroke="#000" stroke-width="1.3"/>
<text x="306.10" y="259.23" font-size="10" font-weight="bold" text-anchor="end" fill="#000">4000</text>
<line x1="311.40" y1="234.30" x2="314.60" y2="234.30" stroke="#000" stroke-width="1.3"/>
<text x="306.10" y="237.80" font-size="10" font-weight="bold" text-anchor="end" fill="#000">6000</text>
<text x="329.60" y="314.60" font-size="10" font-weight="bold" text-anchor="middle" fill="#000">N</text>
<text x="357.80" y="314.60" font-size="10" font-weight="bold" text-anchor="middle" fill="#000">P</text>
<text x="385.60" y="314.60" font-size="10" font-weight="bold" text-anchor="middle" fill="#000">L</text>
<text x="358.20" y="329.50" font-size="10.8" font-weight="bold" text-anchor="middle" fill="#000">Group 2</text>
<text x="357.30" y="226.90" font-size="10.2" font-weight="bold" text-anchor="middle" fill="#000" font-style="italic">Ptcra</text>
<path d="M331.30,245.10 L331.30,241.30 L358.40,241.30 L358.40,245.10" fill="none" stroke="#333" stroke-width="0.8"/>
<text x="344.85" y="243.70" font-size="10" font-weight="bold" text-anchor="middle" fill="#000">**</text>
<path d="M358.40,239.20 L358.40,235.40 L385.40,235.40 L385.40,239.20" fill="none" stroke="#333" stroke-width="0.8"/>
<text x="371.90" y="237.80" font-size="10" font-weight="bold" text-anchor="middle" fill="#000">**</text>
<rect x="443.90" y="277.00" width="9.80" height="21.80" fill="#4f81bd"/>
<line x1="448.80" y1="273.00" x2="448.80" y2="281.00" stroke="#1f3f6f" stroke-width="0.8"/>
<line x1="447.20" y1="273.00" x2="450.40" y2="273.00" stroke="#1f3f6f" stroke-width="0.8"/>
<line x1="447.20" y1="281.00" x2="450.40" y2="281.00" stroke="#1f3f6f" stroke-width="0.8"/>
<rect x="471.40" y="253.00" width="9.80" height="45.80" fill="#4f81bd"/>
<line x1="476.30" y1="246.30" x2="476.30" y2="260.00" stroke="#1f3f6f" stroke-width="0.8"/>
<line x1="474.70" y1="246.30" x2="477.90" y2="246.30" stroke="#1f3f6f" stroke-width="0.8"/>
<line x1="474.70" y1="260.00" x2="477.90" y2="260.00" stroke="#1f3f6f" stroke-width="0.8"/>
<rect x="499.60" y="276.30" width="9.80" height="22.50" fill="#4f81bd"/>
<line x1="504.50" y1="272.50" x2="504.50" y2="280.50" stroke="#1f3f6f" stroke-width="0.8"/>
<line x1="502.90" y1="272.50" x2="506.10" y2="272.50" stroke="#1f3f6f" stroke-width="0.8"/>
<line x1="502.90" y1="280.50" x2="506.10" y2="280.50" stroke="#1f3f6f" stroke-width="0.8"/>
<line x1="433.80" y1="234.50" x2="433.80" y2="299.70" stroke="#000" stroke-width="1.6"/>
<line x1="433.00" y1="298.80" x2="515.00" y2="298.80" stroke="#000" stroke-width="1.7"/>
<line x1="430.60" y1="298.80" x2="433.80" y2="298.80" stroke="#000" stroke-width="1.3"/>
<text x="425.30" y="302.30" font-size="10" font-weight="bold" text-anchor="end" fill="#000">0</text>
<line x1="430.60" y1="277.53" x2="433.80" y2="277.53" stroke="#000" stroke-width="1.3"/>
<text x="425.30" y="281.03" font-size="10" font-weight="bold" text-anchor="end" fill="#000">1000</text>
<line x1="430.60" y1="256.27" x2="433.80" y2="256.27" stroke="#000" stroke-width="1.3"/>
<text x="425.30" y="259.77" font-size="10" font-weight="bold" text-anchor="end" fill="#000">2000</text>
<line x1="430.60" y1="235.00" x2="433.80" y2="235.00" stroke="#000" stroke-width="1.3"/>
<text x="425.30" y="238.50" font-size="10" font-weight="bold" text-anchor="end" fill="#000">3000</text>
<text x="448.80" y="314.60" font-size="10" font-weight="bold" text-anchor="middle" fill="#000">N</text>
<text x="476.30" y="314.60" font-size="10" font-weight="bold" text-anchor="middle" fill="#000">P</text>
<text x="504.50" y="314.60" font-size="10" font-weight="bold" text-anchor="middle" fill="#000">L</text>
<text x="476.90" y="329.50" font-size="10.8" font-weight="bold" text-anchor="middle" fill="#000">Group 2</text>
<text x="476.20" y="228.80" font-size="10.2" font-weight="bold" text-anchor="middle" fill="#000" font-style="italic">Snw1</text>
<path d="M449.50,245.00 L449.50,241.20 L476.60,241.20 L476.60,245.00" fill="none" stroke="#333" stroke-width="0.8"/>
<text x="463.05" y="243.60" font-size="10" font-weight="bold" text-anchor="middle" fill="#000">**</text>
<path d="M477.00,239.20 L477.00,235.40 L503.80,235.40 L503.80,239.20" fill="none" stroke="#333" stroke-width="0.8"/>
<text x="490.40" y="237.80" font-size="10" font-weight="bold" text-anchor="middle" fill="#000">**</text>
<rect x="80.70" y="416.20" width="9.80" height="5.80" fill="#4f81bd"/>
<line x1="85.60" y1="413.50" x2="85.60" y2="418.80" stroke="#1f3f6f" stroke-width="0.8"/>
<line x1="84.00" y1="413.50" x2="87.20" y2="413.50" stroke="#1f3f6f" stroke-width="0.8"/>
<line x1="84.00" y1="418.80" x2="87.20" y2="418.80" stroke="#1f3f6f" stroke-width="0.8"/>
<rect x="108.70" y="408.80" width="9.80" height="13.20" fill="#4f81bd"/>
<line x1="113.60" y1="407.60" x2="113.60" y2="410.00" stroke="#1f3f6f" stroke-width="0.8"/>
<line x1="112.00" y1="407.60" x2="115.20" y2="407.60" stroke="#1f3f6f" stroke-width="0.8"/>
<line x1="112.00" y1="410.00" x2="115.20" y2="410.00" stroke="#1f3f6f" stroke-width="0.8"/>
<rect x="136.40" y="389.50" width="9.80" height="32.50" fill="#4f81bd"/>
<line x1="141.30" y1="378.00" x2="141.30" y2="402.00" stroke="#1f3f6f" stroke-width="0.8"/>
<line x1="139.70" y1="378.00" x2="142.90" y2="378.00" stroke="#1f3f6f" stroke-width="0.8"/>
<line x1="139.70" y1="402.00" x2="142.90" y2="402.00" stroke="#1f3f6f" stroke-width="0.8"/>
<line x1="71.80" y1="357.50" x2="71.80" y2="422.90" stroke="#000" stroke-width="1.6"/>
<line x1="71.00" y1="422.00" x2="155.00" y2="422.00" stroke="#000" stroke-width="1.7"/>
<line x1="68.60" y1="422.00" x2="71.80" y2="422.00" stroke="#000" stroke-width="1.3"/>
<text x="63.30" y="425.50" font-size="10" font-weight="bold" text-anchor="end" fill="#000">0</text>
<line x1="68.60" y1="400.67" x2="71.80" y2="400.67" stroke="#000" stroke-width="1.3"/>
<text x="63.30" y="404.17" font-size="10" font-weight="bold" text-anchor="end" fill="#000">500</text>
<line x1="68.60" y1="379.33" x2="71.80" y2="379.33" stroke="#000" stroke-width="1.3"/>
<text x="63.30" y="382.83" font-size="10" font-weight="bold" text-anchor="end" fill="#000">1000</text>
<line x1="68.60" y1="358.00" x2="71.80" y2="358.00" stroke="#000" stroke-width="1.3"/>
<text x="63.30" y="361.50" font-size="10" font-weight="bold" text-anchor="end" fill="#000">1500</text>
<text x="85.60" y="437.60" font-size="10" font-weight="bold" text-anchor="middle" fill="#000">N</text>
<text x="113.60" y="437.60" font-size="10" font-weight="bold" text-anchor="middle" fill="#000">P</text>
<text x="141.30" y="437.60" font-size="10" font-weight="bold" text-anchor="middle" fill="#000">L</text>
<text x="113.80" y="452.50" font-size="10.8" font-weight="bold" text-anchor="middle" fill="#000">Group 3</text>
<text x="114.00" y="353.00" font-size="10.2" font-weight="bold" text-anchor="middle" fill="#000" font-style="italic">Myc</text>
<path d="M87.40,379.10 L87.40,375.30 L114.40,375.30 L114.40,379.10" fill="none" stroke="#333" stroke-width="0.8"/>
<text x="100.90" y="377.70" font-size="10" font-weight="bold" text-anchor="middle" fill="#000">**</text>
<path d="M114.70,367.30 L114.70,363.50 L141.60,363.50 L141.60,367.30" fill="none" stroke="#333" stroke-width="0.8"/>
<text x="128.15" y="365.90" font-size="10" font-weight="bold" text-anchor="middle" fill="#000">*</text>
<rect x="200.10" y="403.00" width="9.80" height="19.00" fill="#4f81bd"/>
<line x1="205.00" y1="400.50" x2="205.00" y2="405.80" stroke="#1f3f6f" stroke-width="0.8"/>
<line x1="203.40" y1="400.50" x2="206.60" y2="400.50" stroke="#1f3f6f" stroke-width="0.8"/>
<line x1="203.40" y1="405.80" x2="206.60" y2="405.80" stroke="#1f3f6f" stroke-width="0.8"/>
<rect x="227.60" y="394.50" width="9.80" height="27.50" fill="#4f81bd"/>
<line x1="232.50" y1="392.00" x2="232.50" y2="396.50" stroke="#1f3f6f" stroke-width="0.8"/>
<line x1="230.90" y1="392.00" x2="234.10" y2="392.00" stroke="#1f3f6f" stroke-width="0.8"/>
<line x1="230.90" y1="396.50" x2="234.10" y2="396.50" stroke="#1f3f6f" stroke-width="0.8"/>
<rect x="255.40" y="375.00" width="9.80" height="47.00" fill="#4f81bd"/>
<line x1="260.30" y1="365.00" x2="260.30" y2="387.00" stroke="#1f3f6f" stroke-width="0.8"/>
<line x1="258.70" y1="365.00" x2="261.90" y2="365.00" stroke="#1f3f6f" stroke-width="0.8"/>
<line x1="258.70" y1="387.00" x2="261.90" y2="387.00" stroke="#1f3f6f" stroke-width="0.8"/>
<line x1="190.80" y1="357.50" x2="190.80" y2="422.90" stroke="#000" stroke-width="1.6"/>
<line x1="190.00" y1="422.00" x2="270.00" y2="422.00" stroke="#000" stroke-width="1.7"/>
<line x1="187.60" y1="422.00" x2="190.80" y2="422.00" stroke="#000" stroke-width="1.3"/>
<text x="182.30" y="425.50" font-size="10" font-weight="bold" text-anchor="end" fill="#000">0</text>
<line x1="187.60" y1="400.67" x2="190.80" y2="400.67" stroke="#000" stroke-width="1.3"/>
<text x="182.30" y="404.17" font-size="10" font-weight="bold" text-anchor="end" fill="#000">1000</text>
<line x1="187.60" y1="379.33" x2="190.80" y2="379.33" stroke="#000" stroke-width="1.3"/>
<text x="182.30" y="382.83" font-size="10" font-weight="bold" text-anchor="end" fill="#000">2000</text>
<line x1="187.60" y1="358.00" x2="190.80" y2="358.00" stroke="#000" stroke-width="1.3"/>
<text x="182.30" y="361.50" font-size="10" font-weight="bold" text-anchor="end" fill="#000">3000</text>
<text x="205.00" y="437.60" font-size="10" font-weight="bold" text-anchor="middle" fill="#000">N</text>
<text x="232.50" y="437.60" font-size="10" font-weight="bold" text-anchor="middle" fill="#000">P</text>
<text x="260.30" y="437.60" font-size="10" font-weight="bold" text-anchor="middle" fill="#000">L</text>
<text x="232.50" y="452.50" font-size="10.8" font-weight="bold" text-anchor="middle" fill="#000">Group 3</text>
<text x="232.70" y="351.60" font-size="10.2" font-weight="bold" text-anchor="middle" fill="#000" font-style="italic">Apex1</text>
<path d="M205.80,375.60 L205.80,371.80 L232.70,371.80 L232.70,375.60" fill="none" stroke="#333" stroke-width="0.8"/>
<text x="219.25" y="374.20" font-size="10" font-weight="bold" text-anchor="middle" fill="#000">**</text>
<path d="M233.40,363.90 L233.40,360.10 L260.70,360.10 L260.70,363.90" fill="none" stroke="#333" stroke-width="0.8"/>
<text x="247.05" y="362.50" font-size="10" font-weight="bold" text-anchor="middle" fill="#000">*</text>
<rect x="320.10" y="403.00" width="9.80" height="19.00" fill="#4f81bd"/>
<line x1="325.00" y1="399.50" x2="325.00" y2="406.30" stroke="#1f3f6f" stroke-width="0.8"/>
<line x1="323.40" y1="399.50" x2="326.60" y2="399.50" stroke="#1f3f6f" stroke-width="0.8"/>
<line x1="323.40" y1="406.30" x2="326.60" y2="406.30" stroke="#1f3f6f" stroke-width="0.8"/>
<rect x="347.90" y="395.00" width="9.80" height="27.00" fill="#4f81bd"/>
<line x1="352.80" y1="393.80" x2="352.80" y2="397.00" stroke="#1f3f6f" stroke-width="0.8"/>
<line x1="351.20" y1="393.80" x2="354.40" y2="393.80" stroke="#1f3f6f" stroke-width="0.8"/>
<line x1="351.20" y1="397.00" x2="354.40" y2="397.00" stroke="#1f3f6f" stroke-width="0.8"/>
<rect x="375.40" y="373.30" width="9.80" height="48.70" fill="#4f81bd"/>
<line x1="380.30" y1="366.30" x2="380.30" y2="382.00" stroke="#1f3f6f" stroke-width="0.8"/>
<line x1="378.70" y1="366.30" x2="381.90" y2="366.30" stroke="#1f3f6f" stroke-width="0.8"/>
<line x1="378.70" y1="382.00" x2="381.90" y2="382.00" stroke="#1f3f6f" stroke-width="0.8"/>
<line x1="309.00" y1="357.50" x2="309.00" y2="422.90" stroke="#000" stroke-width="1.6"/>
<line x1="308.20" y1="422.00" x2="393.80" y2="422.00" stroke="#000" stroke-width="1.7"/>
<line x1="305.80" y1="422.00" x2="309.00" y2="422.00" stroke="#000" stroke-width="1.3"/>
<text x="300.50" y="425.50" font-size="10" font-weight="bold" text-anchor="end" fill="#000">0</text>
<line x1="305.80" y1="406.00" x2="309.00" y2="406.00" stroke="#000" stroke-width="1.3"/>
<text x="300.50" y="409.50" font-size="10" font-weight="bold" text-anchor="end" fill="#000">2000</text>
<line x1="305.80" y1="390.00" x2="309.00" y2="390.00" stroke="#000" stroke-width="1.3"/>
<text x="300.50" y="393.50" font-size="10" font-weight="bold" text-anchor="end" fill="#000">4000</text>
<line x1="305.80" y1="374.00" x2="309.00" y2="374.00" stroke="#000" stroke-width="1.3"/>
<text x="300.50" y="377.50" font-size="10" font-weight="bold" text-anchor="end" fill="#000">6000</text>
<line x1="305.80" y1="358.00" x2="309.00" y2="358.00" stroke="#000" stroke-width="1.3"/>
<text x="300.50" y="361.50" font-size="10" font-weight="bold" text-anchor="end" fill="#000">8000</text>
<text x="325.00" y="437.60" font-size="10" font-weight="bold" text-anchor="middle" fill="#000">N</text>
<text x="352.80" y="437.60" font-size="10" font-weight="bold" text-anchor="middle" fill="#000">P</text>
<text x="380.30" y="437.60" font-size="10" font-weight="bold" text-anchor="middle" fill="#000">L</text>
<text x="353.10" y="452.50" font-size="10.8" font-weight="bold" text-anchor="middle" fill="#000">Group 3</text>
<text x="352.20" y="351.60" font-size="10.2" font-weight="bold" text-anchor="middle" fill="#000" font-style="italic">Nme2</text>
<path d="M325.80,379.30 L325.80,375.50 L352.40,375.50 L352.40,379.30" fill="none" stroke="#333" stroke-width="0.8"/>
<text x="339.10" y="377.90" font-size="10" font-weight="bold" text-anchor="middle" fill="#000">*</text>
<path d="M354.00,364.00 L354.00,360.20 L380.30,360.20 L380.30,364.00" fill="none" stroke="#333" stroke-width="0.8"/>
<text x="367.15" y="362.60" font-size="10" font-weight="bold" text-anchor="middle" fill="#000">**</text>
<rect x="444.60" y="403.00" width="9.80" height="19.00" fill="#4f81bd"/>
<line x1="449.50" y1="401.30" x2="449.50" y2="406.00" stroke="#1f3f6f" stroke-width="0.8"/>
<line x1="447.90" y1="401.30" x2="451.10" y2="401.30" stroke="#1f3f6f" stroke-width="0.8"/>
<line x1="447.90" y1="406.00" x2="451.10" y2="406.00" stroke="#1f3f6f" stroke-width="0.8"/>
<rect x="472.10" y="395.80" width="9.80" height="26.20" fill="#4f81bd"/>
<line x1="477.00" y1="394.60" x2="477.00" y2="397.00" stroke="#1f3f6f" stroke-width="0.8"/>
<line x1="475.40" y1="394.60" x2="478.60" y2="394.60" stroke="#1f3f6f" stroke-width="0.8"/>
<line x1="475.40" y1="397.00" x2="478.60" y2="397.00" stroke="#1f3f6f" stroke-width="0.8"/>
<rect x="499.90" y="378.80" width="9.80" height="43.20" fill="#4f81bd"/>
<line x1="504.80" y1="369.50" x2="504.80" y2="388.80" stroke="#1f3f6f" stroke-width="0.8"/>
<line x1="503.20" y1="369.50" x2="506.40" y2="369.50" stroke="#1f3f6f" stroke-width="0.8"/>
<line x1="503.20" y1="388.80" x2="506.40" y2="388.80" stroke="#1f3f6f" stroke-width="0.8"/>
<line x1="433.20" y1="357.50" x2="433.20" y2="422.90" stroke="#000" stroke-width="1.6"/>
<line x1="432.40" y1="422.00" x2="516.30" y2="422.00" stroke="#000" stroke-width="1.7"/>
<line x1="430.00" y1="422.00" x2="433.20" y2="422.00" stroke="#000" stroke-width="1.3"/>
<text x="424.70" y="425.50" font-size="10" font-weight="bold" text-anchor="end" fill="#000">0</text>
<line x1="430.00" y1="406.00" x2="433.20" y2="406.00" stroke="#000" stroke-width="1.3"/>
<text x="424.70" y="409.50" font-size="10" font-weight="bold" text-anchor="end" fill="#000">1000</text>
<line x1="430.00" y1="390.00" x2="433.20" y2="390.00" stroke="#000" stroke-width="1.3"/>
<text x="424.70" y="393.50" font-size="10" font-weight="bold" text-anchor="end" fill="#000">2000</text>
<line x1="430.00" y1="374.00" x2="433.20" y2="374.00" stroke="#000" stroke-width="1.3"/>
<text x="424.70" y="377.50" font-size="10" font-weight="bold" text-anchor="end" fill="#000">3000</text>
<line x1="430.00" y1="358.00" x2="433.20" y2="358.00" stroke="#000" stroke-width="1.3"/>
<text x="424.70" y="361.50" font-size="10" font-weight="bold" text-anchor="end" fill="#000">4000</text>
<text x="449.50" y="437.60" font-size="10" font-weight="bold" text-anchor="middle" fill="#000">N</text>
<text x="477.00" y="437.60" font-size="10" font-weight="bold" text-anchor="middle" fill="#000">P</text>
<text x="504.80" y="437.60" font-size="10" font-weight="bold" text-anchor="middle" fill="#000">L</text>
<text x="478.80" y="452.50" font-size="10.8" font-weight="bold" text-anchor="middle" fill="#000">Group 3</text>
<text x="477.20" y="351.60" font-size="10.2" font-weight="bold" text-anchor="middle" fill="#000" font-style="italic">Cdk4</text>
<path d="M450.50,382.00 L450.50,378.20 L476.60,378.20 L476.60,382.00" fill="none" stroke="#333" stroke-width="0.8"/>
<text x="463.55" y="380.60" font-size="10" font-weight="bold" text-anchor="middle" fill="#000">**</text>
<path d="M477.70,364.30 L477.70,360.50 L504.60,360.50 L504.60,364.30" fill="none" stroke="#333" stroke-width="0.8"/>
<text x="491.15" y="362.90" font-size="10" font-weight="bold" text-anchor="middle" fill="#000">*</text>
<text x="28.20" y="262.50" font-size="10.8" font-weight="bold" text-anchor="middle" fill="#000" transform="rotate(-90 28.20 262.50)">Gene expression</text>
<text x="31.20" y="382.70" font-size="10.8" font-weight="bold" text-anchor="middle" fill="#000" transform="rotate(-90 31.20 382.70)">Gene expression</text>
<text x="255.10" y="472.00" font-size="10.8" font-weight="bold" text-anchor="middle" fill="#000" xml:space="preserve">Polyclonal DP cells  vs normal control</text>
<text x="260.0" y="485.6" font-size="10.8" font-weight="bold" text-anchor="middle" word-spacing="-0.6"><tspan font-style="italic">P</tspan> &lt; .01, NES -1.67</text>
<text x="265.00" y="683.00" font-size="10.8" font-weight="bold" text-anchor="middle" fill="#000">Leukemic DP cells vs polyclonal DP cells</text>
<text x="260.2" y="697.6" font-size="10.8" font-weight="bold" text-anchor="middle" word-spacing="-0.6"><tspan font-style="italic">P</tspan> &lt; .01, NES -1.25</text>
<text x="129.00" y="517.00" font-size="10.8" font-weight="bold" text-anchor="middle" fill="#000">MYC oncogenic</text>
<text x="129.00" y="529.80" font-size="10.8" font-weight="bold" text-anchor="middle" fill="#000">signature</text>
<text x="129.00" y="542.50" font-size="10.8" font-weight="bold" text-anchor="middle" fill="#000">(159 genes)</text>
<text x="129.00" y="559.50" font-size="10.8" font-weight="bold" text-anchor="middle" fill="#000">Group 3</text>
<rect x="187.70" y="491.90" width="143.80" height="87.30" fill="#f1eddc"/>
<rect x="204.30" y="502.40" width="111.90" height="72.70" fill="#ffffff"/>
<rect x="204.30" y="502.40" width="111.90" height="67.30" fill="none" stroke="#d8d8d8" stroke-width="0.4"/>
<text x="199.80" y="500.20" font-size="4.7" font-weight="bold" text-anchor="start" fill="#111">Enrichment plot: MYC_ONCOGENIC_SIGNATURE</text>
<text x="202.80" y="506.10" font-size="2.6" font-weight="normal" text-anchor="end" fill="#666">0.1</text>
<text x="202.80" y="513.40" font-size="2.6" font-weight="normal" text-anchor="end" fill="#666">0.0</text>
<text x="202.80" y="520.70" font-size="2.6" font-weight="normal" text-anchor="end" fill="#666">-0.1</text>
<text x="202.80" y="528.00" font-size="2.6" font-weight="normal" text-anchor="end" fill="#666">-0.2</text>
<text x="202.80" y="535.30" font-size="2.6" font-weight="normal" text-anchor="end" fill="#666">-0.3</text>
<text x="202.80" y="542.60" font-size="2.6" font-weight="normal" text-anchor="end" fill="#666">-0.4</text>
<text x="202.80" y="549.90" font-size="2.6" font-weight="normal" text-anchor="end" fill="#666">-0.5</text>
<text x="196.80" y="536.05" font-size="2.6" font-weight="normal" text-anchor="middle" fill="#666" transform="rotate(-90 196.80 536.05)">Enrichment score (ES)</text>
<line x1="204.30" y1="512.50" x2="316.20" y2="512.50" stroke="#bbbbbb" stroke-width="0.5"/>
<rect x="204.28" y="552.60" width="1.05" height="17.10" fill="#c0c0c0"/>
<rect x="205.28" y="552.60" width="1.05" height="17.10" fill="#bdbdbd"/>
<rect x="206.28" y="552.60" width="1.05" height="17.10" fill="#7f7f7f"/>
<rect x="207.28" y="552.60" width="1.05" height="17.10" fill="#b2b2b2"/>
<rect x="208.28" y="552.60" width="1.05" height="17.10" fill="#eaeaea"/>
<rect x="209.28" y="552.60" width="1.05" height="17.10" fill="#5f5f5f"/>
<rect x="210.28" y="552.60" width="1.05" height="17.10" fill="#9b9b9b"/>
<rect x="211.28" y="552.60" width="1.05" height="17.10" fill="#ebebeb"/>
<rect x="212.28" y="552.60" width="1.05" height="17.10" fill="#686868"/>
<rect x="213.28" y="552.60" width="1.05" height="17.10" fill="#fafafa"/>
<rect x="214.28" y="552.60" width="1.05" height="17.10" fill="#f3f3f3"/>
<rect x="215.28" y="552.60" width="1.05" height="17.10" fill="#e4e4e4"/>
<rect x="216.28" y="552.60" width="1.05" height="17.10" fill="#f7f7f7"/>
<rect x="217.28" y="552.60" width="1.05" height="17.10" fill="#ededed"/>
<rect x="218.28" y="552.60" width="1.05" height="17.10" fill="#eaeaea"/>
<rect x="219.28" y="552.60" width="1.05" height="17.10" fill="#efefef"/>
<rect x="220.28" y="552.60" width="1.05" height="17.10" fill="#999999"/>
<rect x="221.28" y="552.60" width="1.05" height="17.10" fill="#f7f7f7"/>
<rect x="222.28" y="552.60" width="1.05" height="17.10" fill="#f4f4f4"/>
<rect x="223.28" y="552.60" width="1.05" height="17.10" fill="#e1e1e1"/>
<rect x="224.28" y="552.60" width="1.05" height="17.10" fill="#f1f1f1"/>
<rect x="225.28" y="552.60" width="1.05" height="17.10" fill="#e2e2e2"/>
<rect x="226.28" y="552.60" width="1.05" height="17.10" fill="#bcbcbc"/>
<rect x="227.28" y="552.60" width="1.05" height="17.10" fill="#9c9c9c"/>
<rect x="228.28" y="552.60" width="1.05" height="17.10" fill="#7c7c7c"/>
<rect x="229.28" y="552.60" width="1.05" height="17.10" fill="#f8f8f8"/>
<rect x="230.28" y="552.60" width="1.05" height="17.10" fill="#929292"/>
<rect x="231.28" y="552.60" width="1.05" height="17.10" fill="#9b9b9b"/>
<rect x="232.28" y="552.60" width="1.05" height="17.10" fill="#606060"/>
<rect x="233.28" y="552.60" width="1.05" height="17.10" fill="#e5e5e5"/>
<rect x="234.28" y="552.60" width="1.05" height="17.10" fill="#757575"/>
<rect x="235.28" y="552.60" width="1.05" height="17.10" fill="#f1f1f1"/>
<rect x="236.28" y="552.60" width="1.05" height="17.10" fill="#959595"/>
<rect x="237.28" y="552.60" width="1.05" height="17.10" fill="#f6f6f6"/>
<rect x="238.28" y="552.60" width="1.05" height="17.10" fill="#f2f2f2"/>
<rect x="239.28" y="552.60" width="1.05" height="17.10" fill="#f7f7f7"/>
<rect x="240.28" y="552.60" width="1.05" height="17.10" fill="#949494"/>
<rect x="241.28" y="552.60" width="1.05" height="17.10" fill="#dcdcdc"/>
<rect x="242.28" y="552.60" width="1.05" height="17.10" fill="#666666"/>
<rect x="243.28" y="552.60" width="1.05" height="17.10" fill="#515151"/>
<rect x="244.28" y="552.60" width="1.05" height="17.10" fill="#ababab"/>
<rect x="245.28" y="552.60" width="1.05" height="17.10" fill="#b6b6b6"/>
<rect x="246.28" y="552.60" width="1.05" height="17.10" fill="#6c6c6c"/>
<rect x="247.28" y="552.60" width="1.05" height="17.10" fill="#ededed"/>
<rect x="248.28" y="552.60" width="1.05" height="17.10" fill="#9d9d9d"/>
<rect x="249.28" y="552.60" width="1.05" height="17.10" fill="#e3e3e3"/>
<rect x="250.28" y="552.60" width="1.05" height="17.10" fill="#6d6d6d"/>
<rect x="251.28" y="552.60" width="1.05" height="17.10" fill="#a7a7a7"/>
<rect x="252.28" y="552.60" width="1.05" height="17.10" fill="#606060"/>
<rect x="253.28" y="552.60" width="1.05" height="17.10" fill="#565656"/>
<rect x="254.28" y="552.60" width="1.05" height="17.10" fill="#c2c2c2"/>
<rect x="255.28" y="552.60" width="1.05" height="17.10" fill="#878787"/>
<rect x="256.28" y="552.60" width="1.05" height="17.10" fill="#e9e9e9"/>
<rect x="257.28" y="552.60" width="1.05" height="17.10" fill="#555555"/>
<rect x="258.28" y="552.60" width="1.05" height="17.10" fill="#ececec"/>
<rect x="259.28" y="552.60" width="1.05" height="17.10" fill="#9a9a9a"/>
<rect x="260.28" y="552.60" width="1.05" height="17.10" fill="#bdbdbd"/>
<rect x="261.28" y="552.60" width="1.05" height="17.10" fill="#a4a4a4"/>
<rect x="262.28" y="552.60" width="1.05" height="17.10" fill="#a4a4a4"/>
<rect x="263.28" y="552.60" width="1.05" height="17.10" fill="#dedede"/>
<rect x="264.28" y="552.60" width="1.05" height="17.10" fill="#bfbfbf"/>
<rect x="265.28" y="552.60" width="1.05" height="17.10" fill="#afafaf"/>
<rect x="266.28" y="552.60" width="1.05" height="17.10" fill="#e9e9e9"/>
<rect x="267.28" y="552.60" width="1.05" height="17.10" fill="#efefef"/>
<rect x="268.28" y="552.60" width="1.05" height="17.10" fill="#aaaaaa"/>
<rect x="269.28" y="552.60" width="1.05" height="17.10" fill="#f3f3f3"/>
<rect x="270.28" y="552.60" width="1.05" height="17.10" fill="#c5c5c5"/>
<rect x="271.28" y="552.60" width="1.05" height="17.10" fill="#f0f0f0"/>
<rect x="272.28" y="552.60" width="1.05" height="17.10" fill="#949494"/>
<rect x="273.28" y="552.60" width="1.05" height="17.10" fill="#787878"/>
<rect x="274.28" y="552.60" width="1.05" height="17.10" fill="#ebebeb"/>
<rect x="275.28" y="552.60" width="1.05" height="17.10" fill="#9e9e9e"/>
<rect x="276.28" y="552.60" width="1.05" height="17.10" fill="#f3f3f3"/>
<rect x="277.28" y="552.60" width="1.05" height="17.10" fill="#999999"/>
<rect x="278.28" y="552.60" width="1.05" height="17.10" fill="#c3c3c3"/>
<rect x="279.28" y="552.60" width="1.05" height="17.10" fill="#9b9b9b"/>
<rect x="280.28" y="552.60" width="1.05" height="17.10" fill="#9a9a9a"/>
<rect x="281.28" y="552.60" width="1.05" height="17.10" fill="#e9e9e9"/>
<rect x="282.28" y="552.60" width="1.05" height="17.10" fill="#f6f6f6"/>
<rect x="283.28" y="552.60" width="1.05" height="17.10" fill="#777777"/>
<rect x="284.28" y="552.60" width="1.05" height="17.10" fill="#717171"/>
<rect x="285.28" y="552.60" width="1.05" height="17.10" fill="#b0b0b0"/>
<rect x="286.28" y="552.60" width="1.05" height="17.10" fill="#a5a5a5"/>
<rect x="287.28" y="552.60" width="1.05" height="17.10" fill="#a3a3a3"/>
<rect x="288.28" y="552.60" width="1.05" height="17.10" fill="#9a9a9a"/>
<rect x="289.28" y="552.60" width="1.05" height="17.10" fill="#f6f6f6"/>
<rect x="290.28" y="552.60" width="1.05" height="17.10" fill="#ededed"/>
<rect x="291.28" y="552.60" width="1.05" height="17.10" fill="#f7f7f7"/>
<rect x="292.28" y="552.60" width="1.05" height="17.10" fill="#5b5b5b"/>
<rect x="293.28" y="552.60" width="1.05" height="17.10" fill="#e4e4e4"/>
<rect x="294.28" y="552.60" width="1.05" height="17.10" fill="#b4b4b4"/>
<rect x="295.28" y="552.60" width="1.05" height="17.10" fill="#676767"/>
<rect x="296.28" y="552.60" width="1.05" height="17.10" fill="#f5f5f5"/>
<rect x="297.28" y="552.60" width="1.05" height="17.10" fill="#7c7c7c"/>
<rect x="298.28" y="552.60" width="1.05" height="17.10" fill="#e9e9e9"/>
<rect x="299.28" y="552.60" width="1.05" height="17.10" fill="#676767"/>
<rect x="300.28" y="552.60" width="1.05" height="17.10" fill="#bbbbbb"/>
<rect x="301.28" y="552.60" width="1.05" height="17.10" fill="#ebebeb"/>
<rect x="302.28" y="552.60" width="1.05" height="17.10" fill="#f2f2f2"/>
<rect x="303.28" y="552.60" width="1.05" height="17.10" fill="#a6a6a6"/>
<rect x="303.78" y="552.60" width="1.05" height="17.10" fill="#515151"/>
<rect x="304.78" y="552.60" width="1.05" height="17.10" fill="#333333"/>
<rect x="305.78" y="552.60" width="1.05" height="17.10" fill="#4d4d4d"/>
<rect x="306.78" y="552.60" width="1.05" height="17.10" fill="#5e5e5e"/>
<rect x="307.78" y="552.60" width="1.05" height="17.10" fill="#282828"/>
<rect x="308.78" y="552.60" width="1.05" height="17.10" fill="#464646"/>
<rect x="309.78" y="552.60" width="1.05" height="17.10" fill="#4b4b4b"/>
<rect x="310.78" y="552.60" width="1.05" height="17.10" fill="#595959"/>
<rect x="311.78" y="552.60" width="1.05" height="17.10" fill="#383838"/>
<defs><linearGradient id="g2368" x1="0" x2="1" y1="0" y2="0"><stop offset="0" stop-color="#e4404e"/><stop offset="0.37" stop-color="#e6505e"/><stop offset="0.4" stop-color="#eebcdc"/><stop offset="0.5" stop-color="#e0cef2"/><stop offset="0.72" stop-color="#ccc6f2"/><stop offset="0.8" stop-color="#9a92e8"/><stop offset="0.86" stop-color="#5a4ed8"/><stop offset="0.92" stop-color="#3a2ec8"/><stop offset="0.94" stop-color="#1a10a0"/><stop offset="1" stop-color="#12089a"/></linearGradient></defs>
<rect x="204.30" y="569.70" width="108.00" height="3.90" fill="url(#g2368)"/>
<polyline points="204.40,512.50 205.20,509.00 206.20,507.10 208.50,505.80 211.50,505.20 216.00,506.50 225.00,509.00 234.00,513.50 243.80,519.20 257.00,527.00 270.80,534.80 282.00,541.50 292.30,547.00 297.00,548.50 303.00,548.30 305.50,547.00 307.10,544.80 309.00,539.00 310.60,530.00 312.00,521.00 313.30,512.50" fill="none" stroke="#3ada3a" stroke-width="1.45" stroke-linejoin="round" stroke-linecap="round"/>
<text x="194.40" y="575.20" font-size="10.9" font-weight="bold" text-anchor="start" fill="#000">N</text>
<text x="320.60" y="575.20" font-size="10.9" font-weight="bold" text-anchor="start" fill="#000">P</text>
<rect x="299.20" y="575.60" width="14.60" height="2.60" fill="#e8141a"/>
<line x1="97.80" y1="586.60" x2="299.40" y2="576.40" stroke="#333" stroke-width="0.9"/>
<line x1="483.00" y1="585.60" x2="313.80" y2="576.40" stroke="#333" stroke-width="0.9"/>
<g>
<rect x="97.80" y="622.90" width="7.18" height="7.33" fill="#e5141a"/>
<rect x="104.93" y="622.90" width="7.18" height="7.33" fill="#f27b7b"/>
<rect x="112.05" y="622.90" width="7.18" height="7.33" fill="#e5141a"/>
<rect x="119.18" y="622.90" width="7.18" height="7.33" fill="#f27b7b"/>
<rect x="126.30" y="622.90" width="7.18" height="7.33" fill="#e5141a"/>
<rect x="133.43" y="622.90" width="7.18" height="7.33" fill="#f27b7b"/>
<rect x="140.56" y="622.90" width="7.18" height="7.33" fill="#e5141a"/>
<rect x="147.68" y="622.90" width="7.18" height="7.33" fill="#e5141a"/>
<rect x="154.81" y="622.90" width="7.18" height="7.33" fill="#e5141a"/>
<rect x="161.93" y="622.90" width="7.18" height="7.33" fill="#e5141a"/>
<rect x="169.06" y="622.90" width="7.18" height="7.33" fill="#ece6f4"/>
<rect x="176.19" y="622.90" width="7.18" height="7.33" fill="#e5141a"/>
<rect x="183.31" y="622.90" width="7.18" height="7.33" fill="#f27b7b"/>
<rect x="190.44" y="622.90" width="7.18" height="7.33" fill="#e5141a"/>
<rect x="197.56" y="622.90" width="7.18" height="7.33" fill="#f27b7b"/>
<rect x="204.69" y="622.90" width="7.18" height="7.33" fill="#e5141a"/>
<rect x="211.82" y="622.90" width="7.18" height="7.33" fill="#e5141a"/>
<rect x="218.94" y="622.90" width="7.18" height="7.33" fill="#8078e4"/>
<rect x="226.07" y="622.90" width="7.18" height="7.33" fill="#e5141a"/>
<rect x="233.19" y="622.90" width="7.18" height="7.33" fill="#e5141a"/>
<rect x="240.32" y="622.90" width="7.18" height="7.33" fill="#e5141a"/>
<rect x="247.45" y="622.90" width="7.18" height="7.33" fill="#f27b7b"/>
<rect x="254.57" y="622.90" width="7.18" height="7.33" fill="#f27b7b"/>
<rect x="261.70" y="622.90" width="7.18" height="7.33" fill="#e5141a"/>
<rect x="268.82" y="622.90" width="7.18" height="7.33" fill="#e5141a"/>
<rect x="275.95" y="622.90" width="7.18" height="7.33" fill="#ece6f4"/>
<rect x="283.08" y="622.90" width="7.18" height="7.33" fill="#e5141a"/>
<rect x="290.20" y="622.90" width="7.18" height="7.33" fill="#f27b7b"/>
<rect x="297.33" y="622.90" width="7.18" height="7.33" fill="#f27b7b"/>
<rect x="304.45" y="622.90" width="7.18" height="7.33" fill="#e5141a"/>
<rect x="311.58" y="622.90" width="7.18" height="7.33" fill="#e5141a"/>
<rect x="318.71" y="622.90" width="7.18" height="7.33" fill="#e5141a"/>
<rect x="325.83" y="622.90" width="7.18" height="7.33" fill="#f27b7b"/>
<rect x="332.96" y="622.90" width="7.18" height="7.33" fill="#e5141a"/>
<rect x="340.08" y="622.90" width="7.18" height="7.33" fill="#e5141a"/>
<rect x="347.21" y="622.90" width="7.18" height="7.33" fill="#e5141a"/>
<rect x="354.34" y="622.90" width="7.18" height="7.33" fill="#f27b7b"/>
<rect x="361.46" y="622.90" width="7.18" height="7.33" fill="#f27b7b"/>
<rect x="368.59" y="622.90" width="7.18" height="7.33" fill="#f8bcc4"/>
<rect x="375.71" y="622.90" width="7.18" height="7.33" fill="#f8bcc4"/>
<rect x="382.84" y="622.90" width="7.18" height="7.33" fill="#ece6f4"/>
<rect x="389.97" y="622.90" width="7.18" height="7.33" fill="#e5141a"/>
<rect x="397.09" y="622.90" width="7.18" height="7.33" fill="#e5141a"/>
<rect x="404.22" y="622.90" width="7.18" height="7.33" fill="#f27b7b"/>
<rect x="411.34" y="622.90" width="7.18" height="7.33" fill="#ece6f4"/>
<rect x="418.47" y="622.90" width="7.18" height="7.33" fill="#e5141a"/>
<rect x="425.60" y="622.90" width="7.18" height="7.33" fill="#e5141a"/>
<rect x="432.72" y="622.90" width="7.18" height="7.33" fill="#e5141a"/>
<rect x="439.85" y="622.90" width="7.18" height="7.33" fill="#ece6f4"/>
<rect x="446.97" y="622.90" width="7.18" height="7.33" fill="#e5141a"/>
<rect x="454.10" y="622.90" width="7.18" height="7.33" fill="#f27b7b"/>
<rect x="461.23" y="622.90" width="7.18" height="7.33" fill="#f27b7b"/>
<rect x="468.35" y="622.90" width="7.18" height="7.33" fill="#f27b7b"/>
<rect x="475.48" y="622.90" width="7.18" height="7.33" fill="#f27b7b"/>
<rect x="97.80" y="630.18" width="7.18" height="7.33" fill="#f8bcc4"/>
<rect x="104.93" y="630.18" width="7.18" height="7.33" fill="#e5141a"/>
<rect x="112.05" y="630.18" width="7.18" height="7.33" fill="#e5141a"/>
<rect x="119.18" y="630.18" width="7.18" height="7.33" fill="#f27b7b"/>
<rect x="126.30" y="630.18" width="7.18" height="7.33" fill="#f27b7b"/>
<rect x="133.43" y="630.18" width="7.18" height="7.33" fill="#e5141a"/>
<rect x="140.56" y="630.18" width="7.18" height="7.33" fill="#f27b7b"/>
<rect x="147.68" y="630.18" width="7.18" height="7.33" fill="#f27b7b"/>
<rect x="154.81" y="630.18" width="7.18" height="7.33" fill="#f8bcc4"/>
<rect x="161.93" y="630.18" width="7.18" height="7.33" fill="#f27b7b"/>
<rect x="169.06" y="630.18" width="7.18" height="7.33" fill="#e5141a"/>
<rect x="176.19" y="630.18" width="7.18" height="7.33" fill="#f27b7b"/>
<rect x="183.31" y="630.18" width="7.18" height="7.33" fill="#e5141a"/>
<rect x="190.44" y="630.18" width="7.18" height="7.33" fill="#f8bcc4"/>
<rect x="197.56" y="630.18" width="7.18" height="7.33" fill="#f8bcc4"/>
<rect x="204.69" y="630.18" width="7.18" height="7.33" fill="#f27b7b"/>
<rect x="211.82" y="630.18" width="7.18" height="7.33" fill="#f8bcc4"/>
<rect x="218.94" y="630.18" width="7.18" height="7.33" fill="#e5141a"/>
<rect x="226.07" y="630.18" width="7.18" height="7.33" fill="#e5141a"/>
<rect x="233.19" y="630.18" width="7.18" height="7.33" fill="#e5141a"/>
<rect x="240.32" y="630.18" width="7.18" height="7.33" fill="#f8bcc4"/>
<rect x="247.45" y="630.18" width="7.18" height="7.33" fill="#f27b7b"/>
<rect x="254.57" y="630.18" width="7.18" height="7.33" fill="#f27b7b"/>
<rect x="261.70" y="630.18" width="7.18" height="7.33" fill="#f8bcc4"/>
<rect x="268.82" y="630.18" width="7.18" height="7.33" fill="#f27b7b"/>
<rect x="275.95" y="630.18" width="7.18" height="7.33" fill="#e5141a"/>
<rect x="283.08" y="630.18" width="7.18" height="7.33" fill="#f27b7b"/>
<rect x="290.20" y="630.18" width="7.18" height="7.33" fill="#e5141a"/>
<rect x="297.33" y="630.18" width="7.18" height="7.33" fill="#f27b7b"/>
<rect x="304.45" y="630.18" width="7.18" height="7.33" fill="#f27b7b"/>
<rect x="311.58" y="630.18" width="7.18" height="7.33" fill="#f27b7b"/>
<rect x="318.71" y="630.18" width="7.18" height="7.33" fill="#f27b7b"/>
<rect x="325.83" y="630.18" width="7.18" height="7.33" fill="#e5141a"/>
<rect x="332.96" y="630.18" width="7.18" height="7.33" fill="#f27b7b"/>
<rect x="340.08" y="630.18" width="7.18" height="7.33" fill="#e5141a"/>
<rect x="347.21" y="630.18" width="7.18" height="7.33" fill="#ece6f4"/>
<rect x="354.34" y="630.18" width="7.18" height="7.33" fill="#f27b7b"/>
<rect x="361.46" y="630.18" width="7.18" height="7.33" fill="#f27b7b"/>
<rect x="368.59" y="630.18" width="7.18" height="7.33" fill="#e5141a"/>
<rect x="375.71" y="630.18" width="7.18" height="7.33" fill="#e5141a"/>
<rect x="382.84" y="630.18" width="7.18" height="7.33" fill="#e5141a"/>
<rect x="389.97" y="630.18" width="7.18" height="7.33" fill="#e5141a"/>
<rect x="397.09" y="630.18" width="7.18" height="7.33" fill="#f27b7b"/>
<rect x="404.22" y="630.18" width="7.18" height="7.33" fill="#e5141a"/>
<rect x="411.34" y="630.18" width="7.18" height="7.33" fill="#f27b7b"/>
<rect x="418.47" y="630.18" width="7.18" height="7.33" fill="#f27b7b"/>
<rect x="425.60" y="630.18" width="7.18" height="7.33" fill="#f8bcc4"/>
<rect x="432.72" y="630.18" width="7.18" height="7.33" fill="#e5141a"/>
<rect x="439.85" y="630.18" width="7.18" height="7.33" fill="#e5141a"/>
<rect x="446.97" y="630.18" width="7.18" height="7.33" fill="#e5141a"/>
<rect x="454.10" y="630.18" width="7.18" height="7.33" fill="#f27b7b"/>
<rect x="461.23" y="630.18" width="7.18" height="7.33" fill="#e5141a"/>
<rect x="468.35" y="630.18" width="7.18" height="7.33" fill="#e5141a"/>
<rect x="475.48" y="630.18" width="7.18" height="7.33" fill="#e5141a"/>
<rect x="97.80" y="637.46" width="7.18" height="7.33" fill="#f27b7b"/>
<rect x="104.93" y="637.46" width="7.18" height="7.33" fill="#e5141a"/>
<rect x="112.05" y="637.46" width="7.18" height="7.33" fill="#f27b7b"/>
<rect x="119.18" y="637.46" width="7.18" height="7.33" fill="#e5141a"/>
<rect x="126.30" y="637.46" width="7.18" height="7.33" fill="#e5141a"/>
<rect x="133.43" y="637.46" width="7.18" height="7.33" fill="#e5141a"/>
<rect x="140.56" y="637.46" width="7.18" height="7.33" fill="#e5141a"/>
<rect x="147.68" y="637.46" width="7.18" height="7.33" fill="#ece6f4"/>
<rect x="154.81" y="637.46" width="7.18" height="7.33" fill="#f27b7b"/>
<rect x="161.93" y="637.46" width="7.18" height="7.33" fill="#e5141a"/>
<rect x="169.06" y="637.46" width="7.18" height="7.33" fill="#e5141a"/>
<rect x="176.19" y="637.46" width="7.18" height="7.33" fill="#f27b7b"/>
<rect x="183.31" y="637.46" width="7.18" height="7.33" fill="#e5141a"/>
<rect x="190.44" y="637.46" width="7.18" height="7.33" fill="#e5141a"/>
<rect x="197.56" y="637.46" width="7.18" height="7.33" fill="#e5141a"/>
<rect x="204.69" y="637.46" width="7.18" height="7.33" fill="#f27b7b"/>
<rect x="211.82" y="637.46" width="7.18" height="7.33" fill="#f8bcc4"/>
<rect x="218.94" y="637.46" width="7.18" height="7.33" fill="#e5141a"/>
<rect x="226.07" y="637.46" width="7.18" height="7.33" fill="#f27b7b"/>
<rect x="233.19" y="637.46" width="7.18" height="7.33" fill="#e5141a"/>
<rect x="240.32" y="637.46" width="7.18" height="7.33" fill="#e5141a"/>
<rect x="247.45" y="637.46" width="7.18" height="7.33" fill="#e5141a"/>
<rect x="254.57" y="637.46" width="7.18" height="7.33" fill="#f27b7b"/>
<rect x="261.70" y="637.46" width="7.18" height="7.33" fill="#f27b7b"/>
<rect x="268.82" y="637.46" width="7.18" height="7.33" fill="#e5141a"/>
<rect x="275.95" y="637.46" width="7.18" height="7.33" fill="#e5141a"/>
<rect x="283.08" y="637.46" width="7.18" height="7.33" fill="#e5141a"/>
<rect x="290.20" y="637.46" width="7.18" height="7.33" fill="#e5141a"/>
<rect x="297.33" y="637.46" width="7.18" height="7.33" fill="#e5141a"/>
<rect x="304.45" y="637.46" width="7.18" height="7.33" fill="#f27b7b"/>
<rect x="311.58" y="637.46" width="7.18" height="7.33" fill="#f27b7b"/>
<rect x="318.71" y="637.46" width="7.18" height="7.33" fill="#f27b7b"/>
<rect x="325.83" y="637.46" width="7.18" height="7.33" fill="#e5141a"/>
<rect x="332.96" y="637.46" width="7.18" height="7.33" fill="#f27b7b"/>
<rect x="340.08" y="637.46" width="7.18" height="7.33" fill="#e5141a"/>
<rect x="347.21" y="637.46" width="7.18" height="7.33" fill="#f27b7b"/>
<rect x="354.34" y="637.46" width="7.18" height="7.33" fill="#e5141a"/>
<rect x="361.46" y="637.46" width="7.18" height="7.33" fill="#e5141a"/>
<rect x="368.59" y="637.46" width="7.18" height="7.33" fill="#e5141a"/>
<rect x="375.71" y="637.46" width="7.18" height="7.33" fill="#e5141a"/>
<rect x="382.84" y="637.46" width="7.18" height="7.33" fill="#e5141a"/>
<rect x="389.97" y="637.46" width="7.18" height="7.33" fill="#e5141a"/>
<rect x="397.09" y="637.46" width="7.18" height="7.33" fill="#e5141a"/>
<rect x="404.22" y="637.46" width="7.18" height="7.33" fill="#f27b7b"/>
<rect x="411.34" y="637.46" width="7.18" height="7.33" fill="#e5141a"/>
<rect x="418.47" y="637.46" width="7.18" height="7.33" fill="#f27b7b"/>
<rect x="425.60" y="637.46" width="7.18" height="7.33" fill="#f8bcc4"/>
<rect x="432.72" y="637.46" width="7.18" height="7.33" fill="#e5141a"/>
<rect x="439.85" y="637.46" width="7.18" height="7.33" fill="#e5141a"/>
<rect x="446.97" y="637.46" width="7.18" height="7.33" fill="#e5141a"/>
<rect x="454.10" y="637.46" width="7.18" height="7.33" fill="#e5141a"/>
<rect x="461.23" y="637.46" width="7.18" height="7.33" fill="#e5141a"/>
<rect x="468.35" y="637.46" width="7.18" height="7.33" fill="#e5141a"/>
<rect x="475.48" y="637.46" width="7.18" height="7.33" fill="#e5141a"/>
<rect x="97.80" y="644.74" width="7.18" height="7.33" fill="#8078e4"/>
<rect x="104.93" y="644.74" width="7.18" height="7.33" fill="#bcb6f0"/>
<rect x="112.05" y="644.74" width="7.18" height="7.33" fill="#bcb6f0"/>
<rect x="119.18" y="644.74" width="7.18" height="7.33" fill="#460fbe"/>
<rect x="126.30" y="644.74" width="7.18" height="7.33" fill="#ece6f4"/>
<rect x="133.43" y="644.74" width="7.18" height="7.33" fill="#bcb6f0"/>
<rect x="140.56" y="644.74" width="7.18" height="7.33" fill="#460fbe"/>
<rect x="147.68" y="644.74" width="7.18" height="7.33" fill="#f27b7b"/>
<rect x="154.81" y="644.74" width="7.18" height="7.33" fill="#bcb6f0"/>
<rect x="161.93" y="644.74" width="7.18" height="7.33" fill="#460fbe"/>
<rect x="169.06" y="644.74" width="7.18" height="7.33" fill="#460fbe"/>
<rect x="176.19" y="644.74" width="7.18" height="7.33" fill="#f8bcc4"/>
<rect x="183.31" y="644.74" width="7.18" height="7.33" fill="#460fbe"/>
<rect x="190.44" y="644.74" width="7.18" height="7.33" fill="#460fbe"/>
<rect x="197.56" y="644.74" width="7.18" height="7.33" fill="#460fbe"/>
<rect x="204.69" y="644.74" width="7.18" height="7.33" fill="#8078e4"/>
<rect x="211.82" y="644.74" width="7.18" height="7.33" fill="#8078e4"/>
<rect x="218.94" y="644.74" width="7.18" height="7.33" fill="#bcb6f0"/>
<rect x="226.07" y="644.74" width="7.18" height="7.33" fill="#460fbe"/>
<rect x="233.19" y="644.74" width="7.18" height="7.33" fill="#460fbe"/>
<rect x="240.32" y="644.74" width="7.18" height="7.33" fill="#460fbe"/>
<rect x="247.45" y="644.74" width="7.18" height="7.33" fill="#460fbe"/>
<rect x="254.57" y="644.74" width="7.18" height="7.33" fill="#ece6f4"/>
<rect x="261.70" y="644.74" width="7.18" height="7.33" fill="#460fbe"/>
<rect x="268.82" y="644.74" width="7.18" height="7.33" fill="#460fbe"/>
<rect x="275.95" y="644.74" width="7.18" height="7.33" fill="#460fbe"/>
<rect x="283.08" y="644.74" width="7.18" height="7.33" fill="#bcb6f0"/>
<rect x="290.20" y="644.74" width="7.18" height="7.33" fill="#460fbe"/>
<rect x="297.33" y="644.74" width="7.18" height="7.33" fill="#8078e4"/>
<rect x="304.45" y="644.74" width="7.18" height="7.33" fill="#460fbe"/>
<rect x="311.58" y="644.74" width="7.18" height="7.33" fill="#8078e4"/>
<rect x="318.71" y="644.74" width="7.18" height="7.33" fill="#460fbe"/>
<rect x="325.83" y="644.74" width="7.18" height="7.33" fill="#8078e4"/>
<rect x="332.96" y="644.74" width="7.18" height="7.33" fill="#8078e4"/>
<rect x="340.08" y="644.74" width="7.18" height="7.33" fill="#8078e4"/>
<rect x="347.21" y="644.74" width="7.18" height="7.33" fill="#8078e4"/>
<rect x="354.34" y="644.74" width="7.18" height="7.33" fill="#bcb6f0"/>
<rect x="361.46" y="644.74" width="7.18" height="7.33" fill="#bcb6f0"/>
<rect x="368.59" y="644.74" width="7.18" height="7.33" fill="#460fbe"/>
<rect x="375.71" y="644.74" width="7.18" height="7.33" fill="#460fbe"/>
<rect x="382.84" y="644.74" width="7.18" height="7.33" fill="#ece6f4"/>
<rect x="389.97" y="644.74" width="7.18" height="7.33" fill="#8078e4"/>
<rect x="397.09" y="644.74" width="7.18" height="7.33" fill="#460fbe"/>
<rect x="404.22" y="644.74" width="7.18" height="7.33" fill="#460fbe"/>
<rect x="411.34" y="644.74" width="7.18" height="7.33" fill="#460fbe"/>
<rect x="418.47" y="644.74" width="7.18" height="7.33" fill="#8078e4"/>
<rect x="425.60" y="644.74" width="7.18" height="7.33" fill="#bcb6f0"/>
<rect x="432.72" y="644.74" width="7.18" height="7.33" fill="#8078e4"/>
<rect x="439.85" y="644.74" width="7.18" height="7.33" fill="#460fbe"/>
<rect x="446.97" y="644.74" width="7.18" height="7.33" fill="#8078e4"/>
<rect x="454.10" y="644.74" width="7.18" height="7.33" fill="#8078e4"/>
<rect x="461.23" y="644.74" width="7.18" height="7.33" fill="#460fbe"/>
<rect x="468.35" y="644.74" width="7.18" height="7.33" fill="#460fbe"/>
<rect x="475.48" y="644.74" width="7.18" height="7.33" fill="#460fbe"/>
<rect x="97.80" y="652.02" width="7.18" height="7.33" fill="#460fbe"/>
<rect x="104.93" y="652.02" width="7.18" height="7.33" fill="#460fbe"/>
<rect x="112.05" y="652.02" width="7.18" height="7.33" fill="#e5141a"/>
<rect x="119.18" y="652.02" width="7.18" height="7.33" fill="#ece6f4"/>
<rect x="126.30" y="652.02" width="7.18" height="7.33" fill="#f27b7b"/>
<rect x="133.43" y="652.02" width="7.18" height="7.33" fill="#ece6f4"/>
<rect x="140.56" y="652.02" width="7.18" height="7.33" fill="#bcb6f0"/>
<rect x="147.68" y="652.02" width="7.18" height="7.33" fill="#460fbe"/>
<rect x="154.81" y="652.02" width="7.18" height="7.33" fill="#bcb6f0"/>
<rect x="161.93" y="652.02" width="7.18" height="7.33" fill="#8078e4"/>
<rect x="169.06" y="652.02" width="7.18" height="7.33" fill="#460fbe"/>
<rect x="176.19" y="652.02" width="7.18" height="7.33" fill="#460fbe"/>
<rect x="183.31" y="652.02" width="7.18" height="7.33" fill="#ece6f4"/>
<rect x="190.44" y="652.02" width="7.18" height="7.33" fill="#8078e4"/>
<rect x="197.56" y="652.02" width="7.18" height="7.33" fill="#460fbe"/>
<rect x="204.69" y="652.02" width="7.18" height="7.33" fill="#8078e4"/>
<rect x="211.82" y="652.02" width="7.18" height="7.33" fill="#460fbe"/>
<rect x="218.94" y="652.02" width="7.18" height="7.33" fill="#ece6f4"/>
<rect x="226.07" y="652.02" width="7.18" height="7.33" fill="#8078e4"/>
<rect x="233.19" y="652.02" width="7.18" height="7.33" fill="#460fbe"/>
<rect x="240.32" y="652.02" width="7.18" height="7.33" fill="#bcb6f0"/>
<rect x="247.45" y="652.02" width="7.18" height="7.33" fill="#ece6f4"/>
<rect x="254.57" y="652.02" width="7.18" height="7.33" fill="#bcb6f0"/>
<rect x="261.70" y="652.02" width="7.18" height="7.33" fill="#460fbe"/>
<rect x="268.82" y="652.02" width="7.18" height="7.33" fill="#460fbe"/>
<rect x="275.95" y="652.02" width="7.18" height="7.33" fill="#ece6f4"/>
<rect x="283.08" y="652.02" width="7.18" height="7.33" fill="#8078e4"/>
<rect x="290.20" y="652.02" width="7.18" height="7.33" fill="#460fbe"/>
<rect x="297.33" y="652.02" width="7.18" height="7.33" fill="#ece6f4"/>
<rect x="304.45" y="652.02" width="7.18" height="7.33" fill="#460fbe"/>
<rect x="311.58" y="652.02" width="7.18" height="7.33" fill="#ece6f4"/>
<rect x="318.71" y="652.02" width="7.18" height="7.33" fill="#ece6f4"/>
<rect x="325.83" y="652.02" width="7.18" height="7.33" fill="#460fbe"/>
<rect x="332.96" y="652.02" width="7.18" height="7.33" fill="#8078e4"/>
<rect x="340.08" y="652.02" width="7.18" height="7.33" fill="#460fbe"/>
<rect x="347.21" y="652.02" width="7.18" height="7.33" fill="#460fbe"/>
<rect x="354.34" y="652.02" width="7.18" height="7.33" fill="#8078e4"/>
<rect x="361.46" y="652.02" width="7.18" height="7.33" fill="#bcb6f0"/>
<rect x="368.59" y="652.02" width="7.18" height="7.33" fill="#460fbe"/>
<rect x="375.71" y="652.02" width="7.18" height="7.33" fill="#8078e4"/>
<rect x="382.84" y="652.02" width="7.18" height="7.33" fill="#ece6f4"/>
<rect x="389.97" y="652.02" width="7.18" height="7.33" fill="#460fbe"/>
<rect x="397.09" y="652.02" width="7.18" height="7.33" fill="#460fbe"/>
<rect x="404.22" y="652.02" width="7.18" height="7.33" fill="#460fbe"/>
<rect x="411.34" y="652.02" width="7.18" height="7.33" fill="#3018e0"/>
<rect x="418.47" y="652.02" width="7.18" height="7.33" fill="#460fbe"/>
<rect x="425.60" y="652.02" width="7.18" height="7.33" fill="#8078e4"/>
<rect x="432.72" y="652.02" width="7.18" height="7.33" fill="#3018e0"/>
<rect x="439.85" y="652.02" width="7.18" height="7.33" fill="#460fbe"/>
<rect x="446.97" y="652.02" width="7.18" height="7.33" fill="#8078e4"/>
<rect x="454.10" y="652.02" width="7.18" height="7.33" fill="#460fbe"/>
<rect x="461.23" y="652.02" width="7.18" height="7.33" fill="#460fbe"/>
<rect x="468.35" y="652.02" width="7.18" height="7.33" fill="#460fbe"/>
<rect x="475.48" y="652.02" width="7.18" height="7.33" fill="#460fbe"/>
<rect x="97.80" y="659.30" width="7.18" height="7.33" fill="#8078e4"/>
<rect x="104.93" y="659.30" width="7.18" height="7.33" fill="#ece6f4"/>
<rect x="112.05" y="659.30" width="7.18" height="7.33" fill="#460fbe"/>
<rect x="119.18" y="659.30" width="7.18" height="7.33" fill="#ece6f4"/>
<rect x="126.30" y="659.30" width="7.18" height="7.33" fill="#460fbe"/>
<rect x="133.43" y="659.30" width="7.18" height="7.33" fill="#460fbe"/>
<rect x="140.56" y="659.30" width="7.18" height="7.33" fill="#ece6f4"/>
<rect x="147.68" y="659.30" width="7.18" height="7.33" fill="#460fbe"/>
<rect x="154.81" y="659.30" width="7.18" height="7.33" fill="#460fbe"/>
<rect x="161.93" y="659.30" width="7.18" height="7.33" fill="#8078e4"/>
<rect x="169.06" y="659.30" width="7.18" height="7.33" fill="#460fbe"/>
<rect x="176.19" y="659.30" width="7.18" height="7.33" fill="#460fbe"/>
<rect x="183.31" y="659.30" width="7.18" height="7.33" fill="#460fbe"/>
<rect x="190.44" y="659.30" width="7.18" height="7.33" fill="#8078e4"/>
<rect x="197.56" y="659.30" width="7.18" height="7.33" fill="#f27b7b"/>
<rect x="204.69" y="659.30" width="7.18" height="7.33" fill="#460fbe"/>
<rect x="211.82" y="659.30" width="7.18" height="7.33" fill="#8078e4"/>
<rect x="218.94" y="659.30" width="7.18" height="7.33" fill="#ece6f4"/>
<rect x="226.07" y="659.30" width="7.18" height="7.33" fill="#460fbe"/>
<rect x="233.19" y="659.30" width="7.18" height="7.33" fill="#460fbe"/>
<rect x="240.32" y="659.30" width="7.18" height="7.33" fill="#460fbe"/>
<rect x="247.45" y="659.30" width="7.18" height="7.33" fill="#460fbe"/>
<rect x="254.57" y="659.30" width="7.18" height="7.33" fill="#460fbe"/>
<rect x="261.70" y="659.30" width="7.18" height="7.33" fill="#460fbe"/>
<rect x="268.82" y="659.30" width="7.18" height="7.33" fill="#8078e4"/>
<rect x="275.95" y="659.30" width="7.18" height="7.33" fill="#460fbe"/>
<rect x="283.08" y="659.30" width="7.18" height="7.33" fill="#460fbe"/>
<rect x="290.20" y="659.30" width="7.18" height="7.33" fill="#460fbe"/>
<rect x="297.33" y="659.30" width="7.18" height="7.33" fill="#460fbe"/>
<rect x="304.45" y="659.30" width="7.18" height="7.33" fill="#8078e4"/>
<rect x="311.58" y="659.30" width="7.18" height="7.33" fill="#460fbe"/>
<rect x="318.71" y="659.30" width="7.18" height="7.33" fill="#460fbe"/>
<rect x="325.83" y="659.30" width="7.18" height="7.33" fill="#460fbe"/>
<rect x="332.96" y="659.30" width="7.18" height="7.33" fill="#460fbe"/>
<rect x="340.08" y="659.30" width="7.18" height="7.33" fill="#460fbe"/>
<rect x="347.21" y="659.30" width="7.18" height="7.33" fill="#460fbe"/>
<rect x="354.34" y="659.30" width="7.18" height="7.33" fill="#460fbe"/>
<rect x="361.46" y="659.30" width="7.18" height="7.33" fill="#460fbe"/>
<rect x="368.59" y="659.30" width="7.18" height="7.33" fill="#460fbe"/>
<rect x="375.71" y="659.30" width="7.18" height="7.33" fill="#460fbe"/>
<rect x="382.84" y="659.30" width="7.18" height="7.33" fill="#460fbe"/>
<rect x="389.97" y="659.30" width="7.18" height="7.33" fill="#460fbe"/>
<rect x="397.09" y="659.30" width="7.18" height="7.33" fill="#460fbe"/>
<rect x="404.22" y="659.30" width="7.18" height="7.33" fill="#bcb6f0"/>
<rect x="411.34" y="659.30" width="7.18" height="7.33" fill="#460fbe"/>
<rect x="418.47" y="659.30" width="7.18" height="7.33" fill="#460fbe"/>
<rect x="425.60" y="659.30" width="7.18" height="7.33" fill="#460fbe"/>
<rect x="432.72" y="659.30" width="7.18" height="7.33" fill="#460fbe"/>
<rect x="439.85" y="659.30" width="7.18" height="7.33" fill="#460fbe"/>
<rect x="446.97" y="659.30" width="7.18" height="7.33" fill="#460fbe"/>
<rect x="454.10" y="659.30" width="7.18" height="7.33" fill="#8078e4"/>
<rect x="461.23" y="659.30" width="7.18" height="7.33" fill="#3018e0"/>
<rect x="468.35" y="659.30" width="7.18" height="7.33" fill="#3018e0"/>
<rect x="475.48" y="659.30" width="7.18" height="7.33" fill="#460fbe"/>
<path d="M104.93,622.90V666.58M112.05,622.90V666.58M119.18,622.90V666.58M126.30,622.90V666.58M133.43,622.90V666.58M140.56,622.90V666.58M147.68,622.90V666.58M154.81,622.90V666.58M161.93,622.90V666.58M169.06,622.90V666.58M176.19,622.90V666.58M183.31,622.90V666.58M190.44,622.90V666.58M197.56,622.90V666.58M204.69,622.90V666.58M211.82,622.90V666.58M218.94,622.90V666.58M226.07,622.90V666.58M233.19,622.90V666.58M240.32,622.90V666.58M247.45,622.90V666.58M254.57,622.90V666.58M261.70,622.90V666.58M268.82,622.90V666.58M275.95,622.90V666.58M283.08,622.90V666.58M290.20,622.90V666.58M297.33,622.90V666.58M304.45,622.90V666.58M311.58,622.90V666.58M318.71,622.90V666.58M325.83,622.90V666.58M332.96,622.90V666.58M340.08,622.90V666.58M347.21,622.90V666.58M354.34,622.90V666.58M361.46,622.90V666.58M368.59,622.90V666.58M375.71,622.90V666.58M382.84,622.90V666.58M389.97,622.90V666.58M397.09,622.90V666.58M404.22,622.90V666.58M411.34,622.90V666.58M418.47,622.90V666.58M425.60,622.90V666.58M432.72,622.90V666.58M439.85,622.90V666.58M446.97,622.90V666.58M454.10,622.90V666.58M461.23,622.90V666.58M468.35,622.90V666.58M475.48,622.90V666.58M97.80,630.18H482.60M97.80,637.46H482.60M97.80,644.74H482.60M97.80,652.02H482.60M97.80,659.30H482.60" stroke="rgba(40,0,20,0.55)" stroke-width="0.75" fill="none"/>
<rect x="97.80" y="622.90" width="384.80" height="43.68" fill="none" stroke="#111" stroke-width="0.9"/>
</g>
<text x="105.60" y="621.30" font-size="7.15" font-weight="bold" text-anchor="start" fill="#000" transform="rotate(-90 105.60 621.30)">ANGEL1</text>
<text x="112.70" y="621.30" font-size="7.15" font-weight="bold" text-anchor="start" fill="#000" transform="rotate(-90 112.70 621.30)">SLC19A1</text>
<text x="119.81" y="621.30" font-size="7.15" font-weight="bold" text-anchor="start" fill="#000" transform="rotate(-90 119.81 621.30)">FARSLA</text>
<text x="126.91" y="621.30" font-size="7.15" font-weight="bold" text-anchor="start" fill="#000" transform="rotate(-90 126.91 621.30)">FARSLB</text>
<text x="134.02" y="621.30" font-size="7.15" font-weight="bold" text-anchor="start" fill="#000" transform="rotate(-90 134.02 621.30)">TMEM97</text>
<text x="141.12" y="621.30" font-size="7.15" font-weight="bold" text-anchor="start" fill="#000" transform="rotate(-90 141.12 621.30)">FLNB</text>
<text x="148.22" y="621.30" font-size="7.15" font-weight="bold" text-anchor="start" fill="#000" transform="rotate(-90 148.22 621.30)">DHODH</text>
<text x="155.33" y="621.30" font-size="7.15" font-weight="bold" text-anchor="start" fill="#000" transform="rotate(-90 155.33 621.30)">ERBB3</text>
<text x="162.43" y="621.30" font-size="7.15" font-weight="bold" text-anchor="start" fill="#000" transform="rotate(-90 162.43 621.30)">EXOSC5</text>
<text x="169.53" y="621.30" font-size="7.15" font-weight="bold" text-anchor="start" fill="#000" transform="rotate(-90 169.53 621.30)">NOL1</text>
<text x="176.64" y="621.30" font-size="7.15" font-weight="bold" text-anchor="start" fill="#000" transform="rotate(-90 176.64 621.30)">TINF2</text>
<text x="183.74" y="621.30" font-size="7.15" font-weight="bold" text-anchor="start" fill="#000" transform="rotate(-90 183.74 621.30)">UTP14A</text>
<text x="190.85" y="621.30" font-size="7.15" font-weight="bold" text-anchor="start" fill="#000" transform="rotate(-90 190.85 621.30)">GPATC4</text>
<text x="197.95" y="621.30" font-size="7.15" font-weight="bold" text-anchor="start" fill="#000" transform="rotate(-90 197.95 621.30)">SCFD2</text>
<text x="205.05" y="621.30" font-size="7.15" font-weight="bold" text-anchor="start" fill="#000" transform="rotate(-90 205.05 621.30)">DGKA</text>
<text x="212.16" y="621.30" font-size="7.15" font-weight="bold" text-anchor="start" fill="#000" transform="rotate(-90 212.16 621.30)">PTRH2</text>
<text x="219.26" y="621.30" font-size="7.15" font-weight="bold" text-anchor="start" fill="#000" transform="rotate(-90 219.26 621.30)">NPM1</text>
<text x="226.36" y="621.30" font-size="7.15" font-weight="bold" text-anchor="start" fill="#000" transform="rotate(-90 226.36 621.30)">METTL1</text>
<text x="233.47" y="621.30" font-size="7.15" font-weight="bold" text-anchor="start" fill="#000" transform="rotate(-90 233.47 621.30)">NLE1</text>
<text x="240.57" y="621.30" font-size="7.15" font-weight="bold" text-anchor="start" fill="#000" transform="rotate(-90 240.57 621.30)">CIRH1A</text>
<text x="247.68" y="621.30" font-size="7.15" font-weight="bold" text-anchor="start" fill="#000" transform="rotate(-90 247.68 621.30)">CDK4</text>
<text x="254.78" y="621.30" font-size="7.15" font-weight="bold" text-anchor="start" fill="#000" transform="rotate(-90 254.78 621.30)">BID</text>
<text x="261.88" y="621.30" font-size="7.15" font-weight="bold" text-anchor="start" fill="#000" transform="rotate(-90 261.88 621.30)">GNL3</text>
<text x="268.99" y="621.30" font-size="7.15" font-weight="bold" text-anchor="start" fill="#000" transform="rotate(-90 268.99 621.30)">ALG3</text>
<text x="276.09" y="621.30" font-size="7.15" font-weight="bold" text-anchor="start" fill="#000" transform="rotate(-90 276.09 621.30)">DDX18</text>
<text x="283.19" y="621.30" font-size="7.15" font-weight="bold" text-anchor="start" fill="#000" transform="rotate(-90 283.19 621.30)">NOLC1</text>
<text x="290.30" y="621.30" font-size="7.15" font-weight="bold" text-anchor="start" fill="#000" transform="rotate(-90 290.30 621.30)">FLAD1</text>
<text x="297.40" y="621.30" font-size="7.15" font-weight="bold" text-anchor="start" fill="#000" transform="rotate(-90 297.40 621.30)">RCL1</text>
<text x="304.51" y="621.30" font-size="7.15" font-weight="bold" text-anchor="start" fill="#000" transform="rotate(-90 304.51 621.30)">UBIAD1</text>
<text x="311.61" y="621.30" font-size="7.15" font-weight="bold" text-anchor="start" fill="#000" transform="rotate(-90 311.61 621.30)">TNFAIP2</text>
<text x="318.71" y="621.30" font-size="7.15" font-weight="bold" text-anchor="start" fill="#000" transform="rotate(-90 318.71 621.30)">PA2G4</text>
<text x="325.82" y="621.30" font-size="7.15" font-weight="bold" text-anchor="start" fill="#000" transform="rotate(-90 325.82 621.30)">MICAL1</text>
<text x="332.92" y="621.30" font-size="7.15" font-weight="bold" text-anchor="start" fill="#000" transform="rotate(-90 332.92 621.30)">RPP40</text>
<text x="340.02" y="621.30" font-size="7.15" font-weight="bold" text-anchor="start" fill="#000" transform="rotate(-90 340.02 621.30)">PLEKHG2</text>
<text x="347.13" y="621.30" font-size="7.15" font-weight="bold" text-anchor="start" fill="#000" transform="rotate(-90 347.13 621.30)">PES1</text>
<text x="354.23" y="621.30" font-size="7.15" font-weight="bold" text-anchor="start" fill="#000" transform="rotate(-90 354.23 621.30)">BCS1L</text>
<text x="361.34" y="621.30" font-size="7.15" font-weight="bold" text-anchor="start" fill="#000" transform="rotate(-90 361.34 621.30)">AKAP12</text>
<text x="368.44" y="621.30" font-size="7.15" font-weight="bold" text-anchor="start" fill="#000" transform="rotate(-90 368.44 621.30)">JTV1</text>
<text x="375.54" y="621.30" font-size="7.15" font-weight="bold" text-anchor="start" fill="#000" transform="rotate(-90 375.54 621.30)">TMEM49</text>
<text x="382.65" y="621.30" font-size="7.15" font-weight="bold" text-anchor="start" fill="#000" transform="rotate(-90 382.65 621.30)">HSPD1</text>
<text x="389.75" y="621.30" font-size="7.15" font-weight="bold" text-anchor="start" fill="#000" transform="rotate(-90 389.75 621.30)">SORL1</text>
<text x="396.85" y="621.30" font-size="7.15" font-weight="bold" text-anchor="start" fill="#000" transform="rotate(-90 396.85 621.30)">ATIC</text>
<text x="403.96" y="621.30" font-size="7.15" font-weight="bold" text-anchor="start" fill="#000" transform="rotate(-90 403.96 621.30)">GEMIN5</text>
<text x="411.06" y="621.30" font-size="7.15" font-weight="bold" text-anchor="start" fill="#000" transform="rotate(-90 411.06 621.30)">DUSP22</text>
<text x="418.17" y="621.30" font-size="7.15" font-weight="bold" text-anchor="start" fill="#000" transform="rotate(-90 418.17 621.30)">AHNAK</text>
<text x="425.27" y="621.30" font-size="7.15" font-weight="bold" text-anchor="start" fill="#000" transform="rotate(-90 425.27 621.30)">IPO4</text>
<text x="432.37" y="621.30" font-size="7.15" font-weight="bold" text-anchor="start" fill="#000" transform="rotate(-90 432.37 621.30)">MYBBP1A</text>
<text x="439.48" y="621.30" font-size="7.15" font-weight="bold" text-anchor="start" fill="#000" transform="rotate(-90 439.48 621.30)">MYC</text>
<text x="446.58" y="621.30" font-size="7.15" font-weight="bold" text-anchor="start" fill="#000" transform="rotate(-90 446.58 621.30)">ISGF3G</text>
<text x="453.68" y="621.30" font-size="7.15" font-weight="bold" text-anchor="start" fill="#000" transform="rotate(-90 453.68 621.30)">SRM</text>
<text x="460.79" y="621.30" font-size="7.15" font-weight="bold" text-anchor="start" fill="#000" transform="rotate(-90 460.79 621.30)">MCOLN2</text>
<text x="467.89" y="621.30" font-size="7.15" font-weight="bold" text-anchor="start" fill="#000" transform="rotate(-90 467.89 621.30)">NRP1</text>
<text x="475.00" y="621.30" font-size="7.15" font-weight="bold" text-anchor="start" fill="#000" transform="rotate(-90 475.00 621.30)">TGM2</text>
<text x="482.10" y="621.30" font-size="7.15" font-weight="bold" text-anchor="start" fill="#000" transform="rotate(-90 482.10 621.30)">ALDH1B1</text>
<text x="77.30" y="637.20" font-size="10.8" font-weight="bold" text-anchor="start" fill="#000">P</text>
<text x="76.80" y="659.70" font-size="10.8" font-weight="bold" text-anchor="start" fill="#000">N</text>
<path d="M94.10,624.60 L92.00,624.60 Q90.80,624.60 90.80,625.80 L90.80,632.90 Q90.80,634.10 88.00,634.10 Q90.80,634.10 90.80,635.30 L90.80,642.40 Q90.80,643.60 92.00,643.60 L94.10,643.60" fill="none" stroke="#1a1a1a" stroke-width="1.05"/>
<path d="M94.10,646.40 L92.00,646.40 Q90.80,646.40 90.80,647.60 L90.80,655.10 Q90.80,656.30 88.00,656.30 Q90.80,656.30 90.80,657.50 L90.80,665.00 Q90.80,666.20 92.00,666.20 L94.10,666.20" fill="none" stroke="#1a1a1a" stroke-width="1.05"/>
<rect x="190.00" y="702.80" width="145.50" height="87.50" fill="#f1eddc"/>
<rect x="207.80" y="713.30" width="114.20" height="72.80" fill="#ffffff"/>
<rect x="207.80" y="713.30" width="114.20" height="67.20" fill="none" stroke="#d8d8d8" stroke-width="0.4"/>
<text x="203.30" y="710.90" font-size="4.7" font-weight="bold" text-anchor="start" fill="#111">Enrichment plot: MYC_ONCOGENIC_SIGNATURE</text>
<text x="206.30" y="717.40" font-size="2.6" font-weight="normal" text-anchor="end" fill="#666">0.1</text>
<text x="206.30" y="727.90" font-size="2.6" font-weight="normal" text-anchor="end" fill="#666">0.0</text>
<text x="206.30" y="738.40" font-size="2.6" font-weight="normal" text-anchor="end" fill="#666">-0.1</text>
<text x="206.30" y="748.90" font-size="2.6" font-weight="normal" text-anchor="end" fill="#666">-0.2</text>
<text x="206.30" y="759.40" font-size="2.6" font-weight="normal" text-anchor="end" fill="#666">-0.3</text>
<text x="200.30" y="746.90" font-size="2.6" font-weight="normal" text-anchor="middle" fill="#666" transform="rotate(-90 200.30 746.90)">Enrichment score (ES)</text>
<line x1="207.80" y1="727.00" x2="322.00" y2="727.00" stroke="#bbbbbb" stroke-width="0.5"/>
<rect x="207.78" y="764.00" width="1.05" height="16.50" fill="#a8a8a8"/>
<rect x="208.78" y="764.00" width="1.05" height="16.50" fill="#e1e1e1"/>
<rect x="209.78" y="764.00" width="1.05" height="16.50" fill="#505050"/>
<rect x="210.78" y="764.00" width="1.05" height="16.50" fill="#aeaeae"/>
<rect x="211.78" y="764.00" width="1.05" height="16.50" fill="#555555"/>
<rect x="212.78" y="764.00" width="1.05" height="16.50" fill="#b8b8b8"/>
<rect x="213.78" y="764.00" width="1.05" height="16.50" fill="#bfbfbf"/>
<rect x="214.78" y="764.00" width="1.05" height="16.50" fill="#bebebe"/>
<rect x="215.78" y="764.00" width="1.05" height="16.50" fill="#7e7e7e"/>
<rect x="216.78" y="764.00" width="1.05" height="16.50" fill="#9b9b9b"/>
<rect x="217.78" y="764.00" width="1.05" height="16.50" fill="#dfdfdf"/>
<rect x="218.78" y="764.00" width="1.05" height="16.50" fill="#fafafa"/>
<rect x="219.78" y="764.00" width="1.05" height="16.50" fill="#f4f4f4"/>
<rect x="220.78" y="764.00" width="1.05" height="16.50" fill="#ebebeb"/>
<rect x="221.78" y="764.00" width="1.05" height="16.50" fill="#eeeeee"/>
<rect x="222.78" y="764.00" width="1.05" height="16.50" fill="#f5f5f5"/>
<rect x="223.78" y="764.00" width="1.05" height="16.50" fill="#818181"/>
<rect x="224.78" y="764.00" width="1.05" height="16.50" fill="#e2e2e2"/>
<rect x="225.78" y="764.00" width="1.05" height="16.50" fill="#a6a6a6"/>
<rect x="226.78" y="764.00" width="1.05" height="16.50" fill="#5c5c5c"/>
<rect x="227.78" y="764.00" width="1.05" height="16.50" fill="#919191"/>
<rect x="228.78" y="764.00" width="1.05" height="16.50" fill="#535353"/>
<rect x="229.78" y="764.00" width="1.05" height="16.50" fill="#868686"/>
<rect x="230.78" y="764.00" width="1.05" height="16.50" fill="#929292"/>
<rect x="231.78" y="764.00" width="1.05" height="16.50" fill="#f3f3f3"/>
<rect x="232.78" y="764.00" width="1.05" height="16.50" fill="#575757"/>
<rect x="233.78" y="764.00" width="1.05" height="16.50" fill="#505050"/>
<rect x="234.78" y="764.00" width="1.05" height="16.50" fill="#eeeeee"/>
<rect x="235.78" y="764.00" width="1.05" height="16.50" fill="#f7f7f7"/>
<rect x="236.78" y="764.00" width="1.05" height="16.50" fill="#dcdcdc"/>
<rect x="237.78" y="764.00" width="1.05" height="16.50" fill="#585858"/>
<rect x="238.78" y="764.00" width="1.05" height="16.50" fill="#929292"/>
<rect x="239.78" y="764.00" width="1.05" height="16.50" fill="#b5b5b5"/>
<rect x="240.78" y="764.00" width="1.05" height="16.50" fill="#9d9d9d"/>
<rect x="241.78" y="764.00" width="1.05" height="16.50" fill="#aaaaaa"/>
<rect x="242.78" y="764.00" width="1.05" height="16.50" fill="#eaeaea"/>
<rect x="243.78" y="764.00" width="1.05" height="16.50" fill="#ececec"/>
<rect x="244.78" y="764.00" width="1.05" height="16.50" fill="#efefef"/>
<rect x="245.78" y="764.00" width="1.05" height="16.50" fill="#939393"/>
<rect x="246.78" y="764.00" width="1.05" height="16.50" fill="#ededed"/>
<rect x="247.78" y="764.00" width="1.05" height="16.50" fill="#c7c7c7"/>
<rect x="248.78" y="764.00" width="1.05" height="16.50" fill="#e4e4e4"/>
<rect x="249.78" y="764.00" width="1.05" height="16.50" fill="#747474"/>
<rect x="250.78" y="764.00" width="1.05" height="16.50" fill="#575757"/>
<rect x="251.78" y="764.00" width="1.05" height="16.50" fill="#696969"/>
<rect x="252.78" y="764.00" width="1.05" height="16.50" fill="#5f5f5f"/>
<rect x="253.78" y="764.00" width="1.05" height="16.50" fill="#ececec"/>
<rect x="254.78" y="764.00" width="1.05" height="16.50" fill="#e7e7e7"/>
<rect x="255.78" y="764.00" width="1.05" height="16.50" fill="#717171"/>
<rect x="256.78" y="764.00" width="1.05" height="16.50" fill="#c2c2c2"/>
<rect x="257.78" y="764.00" width="1.05" height="16.50" fill="#c8c8c8"/>
<rect x="258.78" y="764.00" width="1.05" height="16.50" fill="#fafafa"/>
<rect x="259.78" y="764.00" width="1.05" height="16.50" fill="#eeeeee"/>
<rect x="260.78" y="764.00" width="1.05" height="16.50" fill="#fafafa"/>
<rect x="261.78" y="764.00" width="1.05" height="16.50" fill="#686868"/>
<rect x="262.78" y="764.00" width="1.05" height="16.50" fill="#656565"/>
<rect x="263.78" y="764.00" width="1.05" height="16.50" fill="#dfdfdf"/>
<rect x="264.78" y="764.00" width="1.05" height="16.50" fill="#eaeaea"/>
<rect x="265.78" y="764.00" width="1.05" height="16.50" fill="#f6f6f6"/>
<rect x="266.78" y="764.00" width="1.05" height="16.50" fill="#f0f0f0"/>
<rect x="267.78" y="764.00" width="1.05" height="16.50" fill="#ececec"/>
<rect x="268.78" y="764.00" width="1.05" height="16.50" fill="#e8e8e8"/>
<rect x="269.78" y="764.00" width="1.05" height="16.50" fill="#b4b4b4"/>
<rect x="270.78" y="764.00" width="1.05" height="16.50" fill="#6f6f6f"/>
<rect x="271.78" y="764.00" width="1.05" height="16.50" fill="#c2c2c2"/>
<rect x="272.78" y="764.00" width="1.05" height="16.50" fill="#f3f3f3"/>
<rect x="273.78" y="764.00" width="1.05" height="16.50" fill="#f0f0f0"/>
<rect x="274.78" y="764.00" width="1.05" height="16.50" fill="#f4f4f4"/>
<rect x="275.78" y="764.00" width="1.05" height="16.50" fill="#a8a8a8"/>
<rect x="276.78" y="764.00" width="1.05" height="16.50" fill="#737373"/>
<rect x="277.78" y="764.00" width="1.05" height="16.50" fill="#bbbbbb"/>
<rect x="278.78" y="764.00" width="1.05" height="16.50" fill="#f2f2f2"/>
<rect x="279.78" y="764.00" width="1.05" height="16.50" fill="#606060"/>
<rect x="280.78" y="764.00" width="1.05" height="16.50" fill="#f5f5f5"/>
<rect x="281.78" y="764.00" width="1.05" height="16.50" fill="#e1e1e1"/>
<rect x="282.78" y="764.00" width="1.05" height="16.50" fill="#767676"/>
<rect x="283.78" y="764.00" width="1.05" height="16.50" fill="#dddddd"/>
<rect x="284.78" y="764.00" width="1.05" height="16.50" fill="#eeeeee"/>
<rect x="285.78" y="764.00" width="1.05" height="16.50" fill="#f1f1f1"/>
<rect x="286.78" y="764.00" width="1.05" height="16.50" fill="#c4c4c4"/>
<rect x="287.78" y="764.00" width="1.05" height="16.50" fill="#9a9a9a"/>
<rect x="288.78" y="764.00" width="1.05" height="16.50" fill="#a2a2a2"/>
<rect x="289.78" y="764.00" width="1.05" height="16.50" fill="#dedede"/>
<rect x="290.78" y="764.00" width="1.05" height="16.50" fill="#626262"/>
<rect x="291.78" y="764.00" width="1.05" height="16.50" fill="#959595"/>
<rect x="292.78" y="764.00" width="1.05" height="16.50" fill="#9a9a9a"/>
<rect x="293.78" y="764.00" width="1.05" height="16.50" fill="#c1c1c1"/>
<rect x="294.78" y="764.00" width="1.05" height="16.50" fill="#757575"/>
<rect x="295.78" y="764.00" width="1.05" height="16.50" fill="#5a5a5a"/>
<rect x="296.78" y="764.00" width="1.05" height="16.50" fill="#a2a2a2"/>
<rect x="297.78" y="764.00" width="1.05" height="16.50" fill="#767676"/>
<rect x="298.78" y="764.00" width="1.05" height="16.50" fill="#979797"/>
<rect x="299.78" y="764.00" width="1.05" height="16.50" fill="#616161"/>
<rect x="300.78" y="764.00" width="1.05" height="16.50" fill="#9c9c9c"/>
<rect x="301.78" y="764.00" width="1.05" height="16.50" fill="#848484"/>
<rect x="302.78" y="764.00" width="1.05" height="16.50" fill="#f4f4f4"/>
<rect x="303.78" y="764.00" width="1.05" height="16.50" fill="#868686"/>
<rect x="304.78" y="764.00" width="1.05" height="16.50" fill="#e1e1e1"/>
<rect x="305.18" y="764.00" width="1.05" height="16.50" fill="#464646"/>
<rect x="306.18" y="764.00" width="1.05" height="16.50" fill="#454545"/>
<rect x="307.18" y="764.00" width="1.05" height="16.50" fill="#4d4d4d"/>
<rect x="308.18" y="764.00" width="1.05" height="16.50" fill="#4b4b4b"/>
<rect x="309.18" y="764.00" width="1.05" height="16.50" fill="#4a4a4a"/>
<rect x="310.18" y="764.00" width="1.05" height="16.50" fill="#404040"/>
<rect x="311.18" y="764.00" width="1.05" height="16.50" fill="#2d2d2d"/>
<rect x="312.18" y="764.00" width="1.05" height="16.50" fill="#333333"/>
<rect x="313.18" y="764.00" width="1.05" height="16.50" fill="#4b4b4b"/>
<rect x="314.18" y="764.00" width="1.05" height="16.50" fill="#464646"/>
<rect x="315.18" y="764.00" width="1.05" height="16.50" fill="#4d4d4d"/>
<defs><linearGradient id="g2602" x1="0" x2="1" y1="0" y2="0"><stop offset="0" stop-color="#e4404e"/><stop offset="0.27" stop-color="#e6505e"/><stop offset="0.3" stop-color="#eeb0d8"/><stop offset="0.38" stop-color="#e8c4ec"/><stop offset="0.45" stop-color="#d8d0f4"/><stop offset="0.57" stop-color="#c4c0f0"/><stop offset="0.62" stop-color="#8a82e4"/><stop offset="0.75" stop-color="#6458dc"/><stop offset="0.88" stop-color="#4a3ed8"/><stop offset="0.91" stop-color="#1a10a0"/><stop offset="1" stop-color="#12089a"/></linearGradient></defs>
<rect x="207.80" y="780.50" width="107.90" height="4.10" fill="url(#g2602)"/>
<polyline points="207.90,725.20 209.50,723.50 211.50,721.70 212.90,717.10 215.00,716.00 216.90,715.60 219.60,716.30 223.00,718.50 227.70,720.60 237.10,725.20 246.00,731.50 254.60,738.70 262.00,744.50 270.80,749.40 280.00,753.80 289.60,757.50 296.40,760.20 300.40,758.30 304.00,757.80 308.50,757.50 311.00,755.00 312.50,752.10 314.00,745.00 315.20,737.30 316.20,727.00" fill="none" stroke="#3ada3a" stroke-width="1.45" stroke-linejoin="round" stroke-linecap="round"/>
<text x="196.80" y="785.80" font-size="10.9" font-weight="bold" text-anchor="start" fill="#000">P</text>
<text x="324.40" y="785.80" font-size="10.9" font-weight="bold" text-anchor="start" fill="#000">L</text>
<rect x="295.40" y="787.20" width="20.30" height="2.60" fill="#e8141a"/>
<line x1="63.00" y1="796.40" x2="295.60" y2="788.20" stroke="#333" stroke-width="0.9"/>
<line x1="496.00" y1="796.40" x2="315.70" y2="788.20" stroke="#333" stroke-width="0.9"/>
<g>
<rect x="62.70" y="835.40" width="7.15" height="7.15" fill="#e5141a"/>
<rect x="69.80" y="835.40" width="7.15" height="7.15" fill="#e5141a"/>
<rect x="76.90" y="835.40" width="7.15" height="7.15" fill="#e5141a"/>
<rect x="84.00" y="835.40" width="7.15" height="7.15" fill="#e5141a"/>
<rect x="91.10" y="835.40" width="7.15" height="7.15" fill="#f8bcc4"/>
<rect x="98.20" y="835.40" width="7.15" height="7.15" fill="#8078e4"/>
<rect x="105.30" y="835.40" width="7.15" height="7.15" fill="#e5141a"/>
<rect x="112.40" y="835.40" width="7.15" height="7.15" fill="#f8bcc4"/>
<rect x="119.50" y="835.40" width="7.15" height="7.15" fill="#f8bcc4"/>
<rect x="126.60" y="835.40" width="7.15" height="7.15" fill="#e5141a"/>
<rect x="133.70" y="835.40" width="7.15" height="7.15" fill="#ece6f4"/>
<rect x="140.80" y="835.40" width="7.15" height="7.15" fill="#e5141a"/>
<rect x="147.90" y="835.40" width="7.15" height="7.15" fill="#e5141a"/>
<rect x="155.00" y="835.40" width="7.15" height="7.15" fill="#f8bcc4"/>
<rect x="162.10" y="835.40" width="7.15" height="7.15" fill="#ece6f4"/>
<rect x="169.20" y="835.40" width="7.15" height="7.15" fill="#e5141a"/>
<rect x="176.30" y="835.40" width="7.15" height="7.15" fill="#e5141a"/>
<rect x="183.40" y="835.40" width="7.15" height="7.15" fill="#e5141a"/>
<rect x="190.50" y="835.40" width="7.15" height="7.15" fill="#f27b7b"/>
<rect x="197.60" y="835.40" width="7.15" height="7.15" fill="#e5141a"/>
<rect x="204.70" y="835.40" width="7.15" height="7.15" fill="#e5141a"/>
<rect x="211.80" y="835.40" width="7.15" height="7.15" fill="#ece6f4"/>
<rect x="218.90" y="835.40" width="7.15" height="7.15" fill="#e5141a"/>
<rect x="226.00" y="835.40" width="7.15" height="7.15" fill="#e5141a"/>
<rect x="233.10" y="835.40" width="7.15" height="7.15" fill="#e5141a"/>
<rect x="240.20" y="835.40" width="7.15" height="7.15" fill="#ece6f4"/>
<rect x="247.30" y="835.40" width="7.15" height="7.15" fill="#f27b7b"/>
<rect x="254.40" y="835.40" width="7.15" height="7.15" fill="#f27b7b"/>
<rect x="261.50" y="835.40" width="7.15" height="7.15" fill="#f27b7b"/>
<rect x="268.60" y="835.40" width="7.15" height="7.15" fill="#8078e4"/>
<rect x="275.70" y="835.40" width="7.15" height="7.15" fill="#ece6f4"/>
<rect x="282.80" y="835.40" width="7.15" height="7.15" fill="#e5141a"/>
<rect x="289.90" y="835.40" width="7.15" height="7.15" fill="#f27b7b"/>
<rect x="297.00" y="835.40" width="7.15" height="7.15" fill="#e5141a"/>
<rect x="304.10" y="835.40" width="7.15" height="7.15" fill="#e5141a"/>
<rect x="311.20" y="835.40" width="7.15" height="7.15" fill="#e5141a"/>
<rect x="318.30" y="835.40" width="7.15" height="7.15" fill="#f27b7b"/>
<rect x="325.40" y="835.40" width="7.15" height="7.15" fill="#e5141a"/>
<rect x="332.50" y="835.40" width="7.15" height="7.15" fill="#e5141a"/>
<rect x="339.60" y="835.40" width="7.15" height="7.15" fill="#f27b7b"/>
<rect x="346.70" y="835.40" width="7.15" height="7.15" fill="#f27b7b"/>
<rect x="353.80" y="835.40" width="7.15" height="7.15" fill="#e5141a"/>
<rect x="360.90" y="835.40" width="7.15" height="7.15" fill="#f8bcc4"/>
<rect x="368.00" y="835.40" width="7.15" height="7.15" fill="#e5141a"/>
<rect x="375.10" y="835.40" width="7.15" height="7.15" fill="#e5141a"/>
<rect x="382.20" y="835.40" width="7.15" height="7.15" fill="#e5141a"/>
<rect x="389.30" y="835.40" width="7.15" height="7.15" fill="#f27b7b"/>
<rect x="396.40" y="835.40" width="7.15" height="7.15" fill="#e5141a"/>
<rect x="403.50" y="835.40" width="7.15" height="7.15" fill="#e5141a"/>
<rect x="410.60" y="835.40" width="7.15" height="7.15" fill="#e5141a"/>
<rect x="417.70" y="835.40" width="7.15" height="7.15" fill="#e5141a"/>
<rect x="424.80" y="835.40" width="7.15" height="7.15" fill="#e5141a"/>
<rect x="431.90" y="835.40" width="7.15" height="7.15" fill="#f27b7b"/>
<rect x="439.00" y="835.40" width="7.15" height="7.15" fill="#e5141a"/>
<rect x="446.10" y="835.40" width="7.15" height="7.15" fill="#f27b7b"/>
<rect x="453.20" y="835.40" width="7.15" height="7.15" fill="#f8bcc4"/>
<rect x="460.30" y="835.40" width="7.15" height="7.15" fill="#e5141a"/>
<rect x="467.40" y="835.40" width="7.15" height="7.15" fill="#f27b7b"/>
<rect x="474.50" y="835.40" width="7.15" height="7.15" fill="#f27b7b"/>
<rect x="481.60" y="835.40" width="7.15" height="7.15" fill="#e5141a"/>
<rect x="488.70" y="835.40" width="7.15" height="7.15" fill="#f27b7b"/>
<rect x="62.70" y="842.50" width="7.15" height="7.15" fill="#f27b7b"/>
<rect x="69.80" y="842.50" width="7.15" height="7.15" fill="#8078e4"/>
<rect x="76.90" y="842.50" width="7.15" height="7.15" fill="#f27b7b"/>
<rect x="84.00" y="842.50" width="7.15" height="7.15" fill="#f27b7b"/>
<rect x="91.10" y="842.50" width="7.15" height="7.15" fill="#e5141a"/>
<rect x="98.20" y="842.50" width="7.15" height="7.15" fill="#e5141a"/>
<rect x="105.30" y="842.50" width="7.15" height="7.15" fill="#f27b7b"/>
<rect x="112.40" y="842.50" width="7.15" height="7.15" fill="#e5141a"/>
<rect x="119.50" y="842.50" width="7.15" height="7.15" fill="#e5141a"/>
<rect x="126.60" y="842.50" width="7.15" height="7.15" fill="#f27b7b"/>
<rect x="133.70" y="842.50" width="7.15" height="7.15" fill="#e5141a"/>
<rect x="140.80" y="842.50" width="7.15" height="7.15" fill="#f27b7b"/>
<rect x="147.90" y="842.50" width="7.15" height="7.15" fill="#e5141a"/>
<rect x="155.00" y="842.50" width="7.15" height="7.15" fill="#e5141a"/>
<rect x="162.10" y="842.50" width="7.15" height="7.15" fill="#e5141a"/>
<rect x="169.20" y="842.50" width="7.15" height="7.15" fill="#e5141a"/>
<rect x="176.30" y="842.50" width="7.15" height="7.15" fill="#f8bcc4"/>
<rect x="183.40" y="842.50" width="7.15" height="7.15" fill="#f27b7b"/>
<rect x="190.50" y="842.50" width="7.15" height="7.15" fill="#e5141a"/>
<rect x="197.60" y="842.50" width="7.15" height="7.15" fill="#f8bcc4"/>
<rect x="204.70" y="842.50" width="7.15" height="7.15" fill="#f27b7b"/>
<rect x="211.80" y="842.50" width="7.15" height="7.15" fill="#e5141a"/>
<rect x="218.90" y="842.50" width="7.15" height="7.15" fill="#f27b7b"/>
<rect x="226.00" y="842.50" width="7.15" height="7.15" fill="#f27b7b"/>
<rect x="233.10" y="842.50" width="7.15" height="7.15" fill="#f8bcc4"/>
<rect x="240.20" y="842.50" width="7.15" height="7.15" fill="#e5141a"/>
<rect x="247.30" y="842.50" width="7.15" height="7.15" fill="#e5141a"/>
<rect x="254.40" y="842.50" width="7.15" height="7.15" fill="#e5141a"/>
<rect x="261.50" y="842.50" width="7.15" height="7.15" fill="#e5141a"/>
<rect x="268.60" y="842.50" width="7.15" height="7.15" fill="#e5141a"/>
<rect x="275.70" y="842.50" width="7.15" height="7.15" fill="#e5141a"/>
<rect x="282.80" y="842.50" width="7.15" height="7.15" fill="#e5141a"/>
<rect x="289.90" y="842.50" width="7.15" height="7.15" fill="#e5141a"/>
<rect x="297.00" y="842.50" width="7.15" height="7.15" fill="#e5141a"/>
<rect x="304.10" y="842.50" width="7.15" height="7.15" fill="#f27b7b"/>
<rect x="311.20" y="842.50" width="7.15" height="7.15" fill="#f27b7b"/>
<rect x="318.30" y="842.50" width="7.15" height="7.15" fill="#e5141a"/>
<rect x="325.40" y="842.50" width="7.15" height="7.15" fill="#f27b7b"/>
<rect x="332.50" y="842.50" width="7.15" height="7.15" fill="#e5141a"/>
<rect x="339.60" y="842.50" width="7.15" height="7.15" fill="#e5141a"/>
<rect x="346.70" y="842.50" width="7.15" height="7.15" fill="#e5141a"/>
<rect x="353.80" y="842.50" width="7.15" height="7.15" fill="#e5141a"/>
<rect x="360.90" y="842.50" width="7.15" height="7.15" fill="#e5141a"/>
<rect x="368.00" y="842.50" width="7.15" height="7.15" fill="#e5141a"/>
<rect x="375.10" y="842.50" width="7.15" height="7.15" fill="#e5141a"/>
<rect x="382.20" y="842.50" width="7.15" height="7.15" fill="#e5141a"/>
<rect x="389.30" y="842.50" width="7.15" height="7.15" fill="#e5141a"/>
<rect x="396.40" y="842.50" width="7.15" height="7.15" fill="#e5141a"/>
<rect x="403.50" y="842.50" width="7.15" height="7.15" fill="#e5141a"/>
<rect x="410.60" y="842.50" width="7.15" height="7.15" fill="#e5141a"/>
<rect x="417.70" y="842.50" width="7.15" height="7.15" fill="#e5141a"/>
<rect x="424.80" y="842.50" width="7.15" height="7.15" fill="#e5141a"/>
<rect x="431.90" y="842.50" width="7.15" height="7.15" fill="#e5141a"/>
<rect x="439.00" y="842.50" width="7.15" height="7.15" fill="#f27b7b"/>
<rect x="446.10" y="842.50" width="7.15" height="7.15" fill="#e5141a"/>
<rect x="453.20" y="842.50" width="7.15" height="7.15" fill="#e5141a"/>
<rect x="460.30" y="842.50" width="7.15" height="7.15" fill="#e5141a"/>
<rect x="467.40" y="842.50" width="7.15" height="7.15" fill="#e5141a"/>
<rect x="474.50" y="842.50" width="7.15" height="7.15" fill="#e5141a"/>
<rect x="481.60" y="842.50" width="7.15" height="7.15" fill="#e5141a"/>
<rect x="488.70" y="842.50" width="7.15" height="7.15" fill="#e5141a"/>
<rect x="62.70" y="849.60" width="7.15" height="7.15" fill="#f8bcc4"/>
<rect x="69.80" y="849.60" width="7.15" height="7.15" fill="#8078e4"/>
<rect x="76.90" y="849.60" width="7.15" height="7.15" fill="#460fbe"/>
<rect x="84.00" y="849.60" width="7.15" height="7.15" fill="#8078e4"/>
<rect x="91.10" y="849.60" width="7.15" height="7.15" fill="#ece6f4"/>
<rect x="98.20" y="849.60" width="7.15" height="7.15" fill="#f27b7b"/>
<rect x="105.30" y="849.60" width="7.15" height="7.15" fill="#460fbe"/>
<rect x="112.40" y="849.60" width="7.15" height="7.15" fill="#8078e4"/>
<rect x="119.50" y="849.60" width="7.15" height="7.15" fill="#460fbe"/>
<rect x="126.60" y="849.60" width="7.15" height="7.15" fill="#460fbe"/>
<rect x="133.70" y="849.60" width="7.15" height="7.15" fill="#bcb6f0"/>
<rect x="140.80" y="849.60" width="7.15" height="7.15" fill="#460fbe"/>
<rect x="147.90" y="849.60" width="7.15" height="7.15" fill="#f27b7b"/>
<rect x="155.00" y="849.60" width="7.15" height="7.15" fill="#8078e4"/>
<rect x="162.10" y="849.60" width="7.15" height="7.15" fill="#460fbe"/>
<rect x="169.20" y="849.60" width="7.15" height="7.15" fill="#8078e4"/>
<rect x="176.30" y="849.60" width="7.15" height="7.15" fill="#460fbe"/>
<rect x="183.40" y="849.60" width="7.15" height="7.15" fill="#8078e4"/>
<rect x="190.50" y="849.60" width="7.15" height="7.15" fill="#460fbe"/>
<rect x="197.60" y="849.60" width="7.15" height="7.15" fill="#460fbe"/>
<rect x="204.70" y="849.60" width="7.15" height="7.15" fill="#8078e4"/>
<rect x="211.80" y="849.60" width="7.15" height="7.15" fill="#bcb6f0"/>
<rect x="218.90" y="849.60" width="7.15" height="7.15" fill="#ece6f4"/>
<rect x="226.00" y="849.60" width="7.15" height="7.15" fill="#bcb6f0"/>
<rect x="233.10" y="849.60" width="7.15" height="7.15" fill="#460fbe"/>
<rect x="240.20" y="849.60" width="7.15" height="7.15" fill="#f27b7b"/>
<rect x="247.30" y="849.60" width="7.15" height="7.15" fill="#ece6f4"/>
<rect x="254.40" y="849.60" width="7.15" height="7.15" fill="#460fbe"/>
<rect x="261.50" y="849.60" width="7.15" height="7.15" fill="#3018e0"/>
<rect x="268.60" y="849.60" width="7.15" height="7.15" fill="#f27b7b"/>
<rect x="275.70" y="849.60" width="7.15" height="7.15" fill="#f27b7b"/>
<rect x="282.80" y="849.60" width="7.15" height="7.15" fill="#8078e4"/>
<rect x="289.90" y="849.60" width="7.15" height="7.15" fill="#bcb6f0"/>
<rect x="297.00" y="849.60" width="7.15" height="7.15" fill="#bcb6f0"/>
<rect x="304.10" y="849.60" width="7.15" height="7.15" fill="#460fbe"/>
<rect x="311.20" y="849.60" width="7.15" height="7.15" fill="#f27b7b"/>
<rect x="318.30" y="849.60" width="7.15" height="7.15" fill="#ece6f4"/>
<rect x="325.40" y="849.60" width="7.15" height="7.15" fill="#3018e0"/>
<rect x="332.50" y="849.60" width="7.15" height="7.15" fill="#8078e4"/>
<rect x="339.60" y="849.60" width="7.15" height="7.15" fill="#bcb6f0"/>
<rect x="346.70" y="849.60" width="7.15" height="7.15" fill="#8078e4"/>
<rect x="353.80" y="849.60" width="7.15" height="7.15" fill="#8078e4"/>
<rect x="360.90" y="849.60" width="7.15" height="7.15" fill="#f8bcc4"/>
<rect x="368.00" y="849.60" width="7.15" height="7.15" fill="#8078e4"/>
<rect x="375.10" y="849.60" width="7.15" height="7.15" fill="#bcb6f0"/>
<rect x="382.20" y="849.60" width="7.15" height="7.15" fill="#bcb6f0"/>
<rect x="389.30" y="849.60" width="7.15" height="7.15" fill="#f8bcc4"/>
<rect x="396.40" y="849.60" width="7.15" height="7.15" fill="#bcb6f0"/>
<rect x="403.50" y="849.60" width="7.15" height="7.15" fill="#8078e4"/>
<rect x="410.60" y="849.60" width="7.15" height="7.15" fill="#f27b7b"/>
<rect x="417.70" y="849.60" width="7.15" height="7.15" fill="#bcb6f0"/>
<rect x="424.80" y="849.60" width="7.15" height="7.15" fill="#8078e4"/>
<rect x="431.90" y="849.60" width="7.15" height="7.15" fill="#bcb6f0"/>
<rect x="439.00" y="849.60" width="7.15" height="7.15" fill="#ece6f4"/>
<rect x="446.10" y="849.60" width="7.15" height="7.15" fill="#f8bcc4"/>
<rect x="453.20" y="849.60" width="7.15" height="7.15" fill="#f8bcc4"/>
<rect x="460.30" y="849.60" width="7.15" height="7.15" fill="#bcb6f0"/>
<rect x="467.40" y="849.60" width="7.15" height="7.15" fill="#f27b7b"/>
<rect x="474.50" y="849.60" width="7.15" height="7.15" fill="#f8bcc4"/>
<rect x="481.60" y="849.60" width="7.15" height="7.15" fill="#bcb6f0"/>
<rect x="488.70" y="849.60" width="7.15" height="7.15" fill="#f8bcc4"/>
<rect x="62.70" y="856.70" width="7.15" height="7.15" fill="#3018e0"/>
<rect x="69.80" y="856.70" width="7.15" height="7.15" fill="#bcb6f0"/>
<rect x="76.90" y="856.70" width="7.15" height="7.15" fill="#8078e4"/>
<rect x="84.00" y="856.70" width="7.15" height="7.15" fill="#460fbe"/>
<rect x="91.10" y="856.70" width="7.15" height="7.15" fill="#ece6f4"/>
<rect x="98.20" y="856.70" width="7.15" height="7.15" fill="#f27b7b"/>
<rect x="105.30" y="856.70" width="7.15" height="7.15" fill="#460fbe"/>
<rect x="112.40" y="856.70" width="7.15" height="7.15" fill="#460fbe"/>
<rect x="119.50" y="856.70" width="7.15" height="7.15" fill="#460fbe"/>
<rect x="126.60" y="856.70" width="7.15" height="7.15" fill="#8078e4"/>
<rect x="133.70" y="856.70" width="7.15" height="7.15" fill="#460fbe"/>
<rect x="140.80" y="856.70" width="7.15" height="7.15" fill="#8078e4"/>
<rect x="147.90" y="856.70" width="7.15" height="7.15" fill="#460fbe"/>
<rect x="155.00" y="856.70" width="7.15" height="7.15" fill="#bcb6f0"/>
<rect x="162.10" y="856.70" width="7.15" height="7.15" fill="#460fbe"/>
<rect x="169.20" y="856.70" width="7.15" height="7.15" fill="#8078e4"/>
<rect x="176.30" y="856.70" width="7.15" height="7.15" fill="#460fbe"/>
<rect x="183.40" y="856.70" width="7.15" height="7.15" fill="#f8bcc4"/>
<rect x="190.50" y="856.70" width="7.15" height="7.15" fill="#bcb6f0"/>
<rect x="197.60" y="856.70" width="7.15" height="7.15" fill="#460fbe"/>
<rect x="204.70" y="856.70" width="7.15" height="7.15" fill="#460fbe"/>
<rect x="211.80" y="856.70" width="7.15" height="7.15" fill="#460fbe"/>
<rect x="218.90" y="856.70" width="7.15" height="7.15" fill="#f27b7b"/>
<rect x="226.00" y="856.70" width="7.15" height="7.15" fill="#460fbe"/>
<rect x="233.10" y="856.70" width="7.15" height="7.15" fill="#460fbe"/>
<rect x="240.20" y="856.70" width="7.15" height="7.15" fill="#460fbe"/>
<rect x="247.30" y="856.70" width="7.15" height="7.15" fill="#460fbe"/>
<rect x="254.40" y="856.70" width="7.15" height="7.15" fill="#460fbe"/>
<rect x="261.50" y="856.70" width="7.15" height="7.15" fill="#460fbe"/>
<rect x="268.60" y="856.70" width="7.15" height="7.15" fill="#ece6f4"/>
<rect x="275.70" y="856.70" width="7.15" height="7.15" fill="#460fbe"/>
<rect x="282.80" y="856.70" width="7.15" height="7.15" fill="#8078e4"/>
<rect x="289.90" y="856.70" width="7.15" height="7.15" fill="#460fbe"/>
<rect x="297.00" y="856.70" width="7.15" height="7.15" fill="#460fbe"/>
<rect x="304.10" y="856.70" width="7.15" height="7.15" fill="#460fbe"/>
<rect x="311.20" y="856.70" width="7.15" height="7.15" fill="#460fbe"/>
<rect x="318.30" y="856.70" width="7.15" height="7.15" fill="#460fbe"/>
<rect x="325.40" y="856.70" width="7.15" height="7.15" fill="#460fbe"/>
<rect x="332.50" y="856.70" width="7.15" height="7.15" fill="#460fbe"/>
<rect x="339.60" y="856.70" width="7.15" height="7.15" fill="#460fbe"/>
<rect x="346.70" y="856.70" width="7.15" height="7.15" fill="#460fbe"/>
<rect x="353.80" y="856.70" width="7.15" height="7.15" fill="#460fbe"/>
<rect x="360.90" y="856.70" width="7.15" height="7.15" fill="#460fbe"/>
<rect x="368.00" y="856.70" width="7.15" height="7.15" fill="#460fbe"/>
<rect x="375.10" y="856.70" width="7.15" height="7.15" fill="#460fbe"/>
<rect x="382.20" y="856.70" width="7.15" height="7.15" fill="#460fbe"/>
<rect x="389.30" y="856.70" width="7.15" height="7.15" fill="#bcb6f0"/>
<rect x="396.40" y="856.70" width="7.15" height="7.15" fill="#8078e4"/>
<rect x="403.50" y="856.70" width="7.15" height="7.15" fill="#3018e0"/>
<rect x="410.60" y="856.70" width="7.15" height="7.15" fill="#460fbe"/>
<rect x="417.70" y="856.70" width="7.15" height="7.15" fill="#8078e4"/>
<rect x="424.80" y="856.70" width="7.15" height="7.15" fill="#460fbe"/>
<rect x="431.90" y="856.70" width="7.15" height="7.15" fill="#460fbe"/>
<rect x="439.00" y="856.70" width="7.15" height="7.15" fill="#3018e0"/>
<rect x="446.10" y="856.70" width="7.15" height="7.15" fill="#460fbe"/>
<rect x="453.20" y="856.70" width="7.15" height="7.15" fill="#3018e0"/>
<rect x="460.30" y="856.70" width="7.15" height="7.15" fill="#460fbe"/>
<rect x="467.40" y="856.70" width="7.15" height="7.15" fill="#460fbe"/>
<rect x="474.50" y="856.70" width="7.15" height="7.15" fill="#8078e4"/>
<rect x="481.60" y="856.70" width="7.15" height="7.15" fill="#8078e4"/>
<rect x="488.70" y="856.70" width="7.15" height="7.15" fill="#460fbe"/>
<rect x="62.70" y="863.80" width="7.15" height="7.15" fill="#460fbe"/>
<rect x="69.80" y="863.80" width="7.15" height="7.15" fill="#8078e4"/>
<rect x="76.90" y="863.80" width="7.15" height="7.15" fill="#8078e4"/>
<rect x="84.00" y="863.80" width="7.15" height="7.15" fill="#f27b7b"/>
<rect x="91.10" y="863.80" width="7.15" height="7.15" fill="#460fbe"/>
<rect x="98.20" y="863.80" width="7.15" height="7.15" fill="#460fbe"/>
<rect x="105.30" y="863.80" width="7.15" height="7.15" fill="#bcb6f0"/>
<rect x="112.40" y="863.80" width="7.15" height="7.15" fill="#bcb6f0"/>
<rect x="119.50" y="863.80" width="7.15" height="7.15" fill="#8078e4"/>
<rect x="126.60" y="863.80" width="7.15" height="7.15" fill="#8078e4"/>
<rect x="133.70" y="863.80" width="7.15" height="7.15" fill="#bcb6f0"/>
<rect x="140.80" y="863.80" width="7.15" height="7.15" fill="#460fbe"/>
<rect x="147.90" y="863.80" width="7.15" height="7.15" fill="#8078e4"/>
<rect x="155.00" y="863.80" width="7.15" height="7.15" fill="#460fbe"/>
<rect x="162.10" y="863.80" width="7.15" height="7.15" fill="#460fbe"/>
<rect x="169.20" y="863.80" width="7.15" height="7.15" fill="#8078e4"/>
<rect x="176.30" y="863.80" width="7.15" height="7.15" fill="#8078e4"/>
<rect x="183.40" y="863.80" width="7.15" height="7.15" fill="#460fbe"/>
<rect x="190.50" y="863.80" width="7.15" height="7.15" fill="#460fbe"/>
<rect x="197.60" y="863.80" width="7.15" height="7.15" fill="#460fbe"/>
<rect x="204.70" y="863.80" width="7.15" height="7.15" fill="#460fbe"/>
<rect x="211.80" y="863.80" width="7.15" height="7.15" fill="#8078e4"/>
<rect x="218.90" y="863.80" width="7.15" height="7.15" fill="#460fbe"/>
<rect x="226.00" y="863.80" width="7.15" height="7.15" fill="#460fbe"/>
<rect x="233.10" y="863.80" width="7.15" height="7.15" fill="#460fbe"/>
<rect x="240.20" y="863.80" width="7.15" height="7.15" fill="#460fbe"/>
<rect x="247.30" y="863.80" width="7.15" height="7.15" fill="#ece6f4"/>
<rect x="254.40" y="863.80" width="7.15" height="7.15" fill="#460fbe"/>
<rect x="261.50" y="863.80" width="7.15" height="7.15" fill="#460fbe"/>
<rect x="268.60" y="863.80" width="7.15" height="7.15" fill="#460fbe"/>
<rect x="275.70" y="863.80" width="7.15" height="7.15" fill="#460fbe"/>
<rect x="282.80" y="863.80" width="7.15" height="7.15" fill="#460fbe"/>
<rect x="289.90" y="863.80" width="7.15" height="7.15" fill="#460fbe"/>
<rect x="297.00" y="863.80" width="7.15" height="7.15" fill="#8078e4"/>
<rect x="304.10" y="863.80" width="7.15" height="7.15" fill="#460fbe"/>
<rect x="311.20" y="863.80" width="7.15" height="7.15" fill="#460fbe"/>
<rect x="318.30" y="863.80" width="7.15" height="7.15" fill="#460fbe"/>
<rect x="325.40" y="863.80" width="7.15" height="7.15" fill="#460fbe"/>
<rect x="332.50" y="863.80" width="7.15" height="7.15" fill="#460fbe"/>
<rect x="339.60" y="863.80" width="7.15" height="7.15" fill="#460fbe"/>
<rect x="346.70" y="863.80" width="7.15" height="7.15" fill="#460fbe"/>
<rect x="353.80" y="863.80" width="7.15" height="7.15" fill="#460fbe"/>
<rect x="360.90" y="863.80" width="7.15" height="7.15" fill="#460fbe"/>
<rect x="368.00" y="863.80" width="7.15" height="7.15" fill="#460fbe"/>
<rect x="375.10" y="863.80" width="7.15" height="7.15" fill="#460fbe"/>
<rect x="382.20" y="863.80" width="7.15" height="7.15" fill="#460fbe"/>
<rect x="389.30" y="863.80" width="7.15" height="7.15" fill="#460fbe"/>
<rect x="396.40" y="863.80" width="7.15" height="7.15" fill="#460fbe"/>
<rect x="403.50" y="863.80" width="7.15" height="7.15" fill="#460fbe"/>
<rect x="410.60" y="863.80" width="7.15" height="7.15" fill="#8078e4"/>
<rect x="417.70" y="863.80" width="7.15" height="7.15" fill="#460fbe"/>
<rect x="424.80" y="863.80" width="7.15" height="7.15" fill="#460fbe"/>
<rect x="431.90" y="863.80" width="7.15" height="7.15" fill="#460fbe"/>
<rect x="439.00" y="863.80" width="7.15" height="7.15" fill="#460fbe"/>
<rect x="446.10" y="863.80" width="7.15" height="7.15" fill="#460fbe"/>
<rect x="453.20" y="863.80" width="7.15" height="7.15" fill="#460fbe"/>
<rect x="460.30" y="863.80" width="7.15" height="7.15" fill="#460fbe"/>
<rect x="467.40" y="863.80" width="7.15" height="7.15" fill="#460fbe"/>
<rect x="474.50" y="863.80" width="7.15" height="7.15" fill="#460fbe"/>
<rect x="481.60" y="863.80" width="7.15" height="7.15" fill="#460fbe"/>
<rect x="488.70" y="863.80" width="7.15" height="7.15" fill="#460fbe"/>
<rect x="62.70" y="870.90" width="7.15" height="7.15" fill="#8078e4"/>
<rect x="69.80" y="870.90" width="7.15" height="7.15" fill="#460fbe"/>
<rect x="76.90" y="870.90" width="7.15" height="7.15" fill="#460fbe"/>
<rect x="84.00" y="870.90" width="7.15" height="7.15" fill="#460fbe"/>
<rect x="91.10" y="870.90" width="7.15" height="7.15" fill="#bcb6f0"/>
<rect x="98.20" y="870.90" width="7.15" height="7.15" fill="#460fbe"/>
<rect x="105.30" y="870.90" width="7.15" height="7.15" fill="#460fbe"/>
<rect x="112.40" y="870.90" width="7.15" height="7.15" fill="#460fbe"/>
<rect x="119.50" y="870.90" width="7.15" height="7.15" fill="#460fbe"/>
<rect x="126.60" y="870.90" width="7.15" height="7.15" fill="#460fbe"/>
<rect x="133.70" y="870.90" width="7.15" height="7.15" fill="#ece6f4"/>
<rect x="140.80" y="870.90" width="7.15" height="7.15" fill="#460fbe"/>
<rect x="147.90" y="870.90" width="7.15" height="7.15" fill="#460fbe"/>
<rect x="155.00" y="870.90" width="7.15" height="7.15" fill="#460fbe"/>
<rect x="162.10" y="870.90" width="7.15" height="7.15" fill="#460fbe"/>
<rect x="169.20" y="870.90" width="7.15" height="7.15" fill="#460fbe"/>
<rect x="176.30" y="870.90" width="7.15" height="7.15" fill="#460fbe"/>
<rect x="183.40" y="870.90" width="7.15" height="7.15" fill="#460fbe"/>
<rect x="190.50" y="870.90" width="7.15" height="7.15" fill="#460fbe"/>
<rect x="197.60" y="870.90" width="7.15" height="7.15" fill="#460fbe"/>
<rect x="204.70" y="870.90" width="7.15" height="7.15" fill="#8078e4"/>
<rect x="211.80" y="870.90" width="7.15" height="7.15" fill="#bcb6f0"/>
<rect x="218.90" y="870.90" width="7.15" height="7.15" fill="#460fbe"/>
<rect x="226.00" y="870.90" width="7.15" height="7.15" fill="#460fbe"/>
<rect x="233.10" y="870.90" width="7.15" height="7.15" fill="#460fbe"/>
<rect x="240.20" y="870.90" width="7.15" height="7.15" fill="#8078e4"/>
<rect x="247.30" y="870.90" width="7.15" height="7.15" fill="#ece6f4"/>
<rect x="254.40" y="870.90" width="7.15" height="7.15" fill="#460fbe"/>
<rect x="261.50" y="870.90" width="7.15" height="7.15" fill="#8078e4"/>
<rect x="268.60" y="870.90" width="7.15" height="7.15" fill="#460fbe"/>
<rect x="275.70" y="870.90" width="7.15" height="7.15" fill="#460fbe"/>
<rect x="282.80" y="870.90" width="7.15" height="7.15" fill="#460fbe"/>
<rect x="289.90" y="870.90" width="7.15" height="7.15" fill="#460fbe"/>
<rect x="297.00" y="870.90" width="7.15" height="7.15" fill="#8078e4"/>
<rect x="304.10" y="870.90" width="7.15" height="7.15" fill="#460fbe"/>
<rect x="311.20" y="870.90" width="7.15" height="7.15" fill="#460fbe"/>
<rect x="318.30" y="870.90" width="7.15" height="7.15" fill="#460fbe"/>
<rect x="325.40" y="870.90" width="7.15" height="7.15" fill="#460fbe"/>
<rect x="332.50" y="870.90" width="7.15" height="7.15" fill="#460fbe"/>
<rect x="339.60" y="870.90" width="7.15" height="7.15" fill="#460fbe"/>
<rect x="346.70" y="870.90" width="7.15" height="7.15" fill="#460fbe"/>
<rect x="353.80" y="870.90" width="7.15" height="7.15" fill="#460fbe"/>
<rect x="360.90" y="870.90" width="7.15" height="7.15" fill="#460fbe"/>
<rect x="368.00" y="870.90" width="7.15" height="7.15" fill="#460fbe"/>
<rect x="375.10" y="870.90" width="7.15" height="7.15" fill="#460fbe"/>
<rect x="382.20" y="870.90" width="7.15" height="7.15" fill="#460fbe"/>
<rect x="389.30" y="870.90" width="7.15" height="7.15" fill="#8078e4"/>
<rect x="396.40" y="870.90" width="7.15" height="7.15" fill="#460fbe"/>
<rect x="403.50" y="870.90" width="7.15" height="7.15" fill="#460fbe"/>
<rect x="410.60" y="870.90" width="7.15" height="7.15" fill="#ece6f4"/>
<rect x="417.70" y="870.90" width="7.15" height="7.15" fill="#3018e0"/>
<rect x="424.80" y="870.90" width="7.15" height="7.15" fill="#460fbe"/>
<rect x="431.90" y="870.90" width="7.15" height="7.15" fill="#460fbe"/>
<rect x="439.00" y="870.90" width="7.15" height="7.15" fill="#460fbe"/>
<rect x="446.10" y="870.90" width="7.15" height="7.15" fill="#460fbe"/>
<rect x="453.20" y="870.90" width="7.15" height="7.15" fill="#460fbe"/>
<rect x="460.30" y="870.90" width="7.15" height="7.15" fill="#460fbe"/>
<rect x="467.40" y="870.90" width="7.15" height="7.15" fill="#460fbe"/>
<rect x="474.50" y="870.90" width="7.15" height="7.15" fill="#460fbe"/>
<rect x="481.60" y="870.90" width="7.15" height="7.15" fill="#460fbe"/>
<rect x="488.70" y="870.90" width="7.15" height="7.15" fill="#460fbe"/>
<path d="M69.80,835.40V878.00M76.90,835.40V878.00M84.00,835.40V878.00M91.10,835.40V878.00M98.20,835.40V878.00M105.30,835.40V878.00M112.40,835.40V878.00M119.50,835.40V878.00M126.60,835.40V878.00M133.70,835.40V878.00M140.80,835.40V878.00M147.90,835.40V878.00M155.00,835.40V878.00M162.10,835.40V878.00M169.20,835.40V878.00M176.30,835.40V878.00M183.40,835.40V878.00M190.50,835.40V878.00M197.60,835.40V878.00M204.70,835.40V878.00M211.80,835.40V878.00M218.90,835.40V878.00M226.00,835.40V878.00M233.10,835.40V878.00M240.20,835.40V878.00M247.30,835.40V878.00M254.40,835.40V878.00M261.50,835.40V878.00M268.60,835.40V878.00M275.70,835.40V878.00M282.80,835.40V878.00M289.90,835.40V878.00M297.00,835.40V878.00M304.10,835.40V878.00M311.20,835.40V878.00M318.30,835.40V878.00M325.40,835.40V878.00M332.50,835.40V878.00M339.60,835.40V878.00M346.70,835.40V878.00M353.80,835.40V878.00M360.90,835.40V878.00M368.00,835.40V878.00M375.10,835.40V878.00M382.20,835.40V878.00M389.30,835.40V878.00M396.40,835.40V878.00M403.50,835.40V878.00M410.60,835.40V878.00M417.70,835.40V878.00M424.80,835.40V878.00M431.90,835.40V878.00M439.00,835.40V878.00M446.10,835.40V878.00M453.20,835.40V878.00M460.30,835.40V878.00M467.40,835.40V878.00M474.50,835.40V878.00M481.60,835.40V878.00M488.70,835.40V878.00M62.70,842.50H495.80M62.70,849.60H495.80M62.70,856.70H495.80M62.70,863.80H495.80M62.70,870.90H495.80" stroke="rgba(40,0,20,0.55)" stroke-width="0.75" fill="none"/>
<rect x="62.70" y="835.40" width="433.10" height="42.60" fill="none" stroke="#111" stroke-width="0.9"/>
</g>
<text x="68.81" y="833.10" font-size="7.1" font-weight="bold" text-anchor="start" fill="#000" transform="rotate(-90 68.81 833.10)">UBIAD1</text>
<text x="75.91" y="833.10" font-size="7.1" font-weight="bold" text-anchor="start" fill="#000" transform="rotate(-90 75.91 833.10)">COL1A1</text>
<text x="83.01" y="833.10" font-size="7.1" font-weight="bold" text-anchor="start" fill="#000" transform="rotate(-90 83.01 833.10)">ABCC3</text>
<text x="90.11" y="833.10" font-size="7.1" font-weight="bold" text-anchor="start" fill="#000" transform="rotate(-90 90.11 833.10)">STMN3</text>
<text x="97.21" y="833.10" font-size="7.1" font-weight="bold" text-anchor="start" fill="#000" transform="rotate(-90 97.21 833.10)">PEO1</text>
<text x="104.31" y="833.10" font-size="7.1" font-weight="bold" text-anchor="start" fill="#000" transform="rotate(-90 104.31 833.10)">PFKM</text>
<text x="111.41" y="833.10" font-size="7.1" font-weight="bold" text-anchor="start" fill="#000" transform="rotate(-90 111.41 833.10)">MST1R</text>
<text x="118.51" y="833.10" font-size="7.1" font-weight="bold" text-anchor="start" fill="#000" transform="rotate(-90 118.51 833.10)">PDLIM7</text>
<text x="125.61" y="833.10" font-size="7.1" font-weight="bold" text-anchor="start" fill="#000" transform="rotate(-90 125.61 833.10)">RPP40</text>
<text x="132.71" y="833.10" font-size="7.1" font-weight="bold" text-anchor="start" fill="#000" transform="rotate(-90 132.71 833.10)">MEG3</text>
<text x="139.81" y="833.10" font-size="7.1" font-weight="bold" text-anchor="start" fill="#000" transform="rotate(-90 139.81 833.10)">GPD1L</text>
<text x="146.91" y="833.10" font-size="7.1" font-weight="bold" text-anchor="start" fill="#000" transform="rotate(-90 146.91 833.10)">NGFR</text>
<text x="154.01" y="833.10" font-size="7.1" font-weight="bold" text-anchor="start" fill="#000" transform="rotate(-90 154.01 833.10)">MAP3K6</text>
<text x="161.11" y="833.10" font-size="7.1" font-weight="bold" text-anchor="start" fill="#000" transform="rotate(-90 161.11 833.10)">ALG3</text>
<text x="168.21" y="833.10" font-size="7.1" font-weight="bold" text-anchor="start" fill="#000" transform="rotate(-90 168.21 833.10)">TNFAIP2</text>
<text x="175.31" y="833.10" font-size="7.1" font-weight="bold" text-anchor="start" fill="#000" transform="rotate(-90 175.31 833.10)">TUBA3</text>
<text x="182.41" y="833.10" font-size="7.1" font-weight="bold" text-anchor="start" fill="#000" transform="rotate(-90 182.41 833.10)">HS6ST2</text>
<text x="189.51" y="833.10" font-size="7.1" font-weight="bold" text-anchor="start" fill="#000" transform="rotate(-90 189.51 833.10)">PTRH2</text>
<text x="196.61" y="833.10" font-size="7.1" font-weight="bold" text-anchor="start" fill="#000" transform="rotate(-90 196.61 833.10)">PA2G4</text>
<text x="203.71" y="833.10" font-size="7.1" font-weight="bold" text-anchor="start" fill="#000" transform="rotate(-90 203.71 833.10)">SLC29A2</text>
<text x="210.81" y="833.10" font-size="7.1" font-weight="bold" text-anchor="start" fill="#000" transform="rotate(-90 210.81 833.10)">RABEPK</text>
<text x="217.91" y="833.10" font-size="7.1" font-weight="bold" text-anchor="start" fill="#000" transform="rotate(-90 217.91 833.10)">SUPV3L1</text>
<text x="225.01" y="833.10" font-size="7.1" font-weight="bold" text-anchor="start" fill="#000" transform="rotate(-90 225.01 833.10)">TCOF1</text>
<text x="232.11" y="833.10" font-size="7.1" font-weight="bold" text-anchor="start" fill="#000" transform="rotate(-90 232.11 833.10)">IMP4</text>
<text x="239.21" y="833.10" font-size="7.1" font-weight="bold" text-anchor="start" fill="#000" transform="rotate(-90 239.21 833.10)">FGFBP1</text>
<text x="246.31" y="833.10" font-size="7.1" font-weight="bold" text-anchor="start" fill="#000" transform="rotate(-90 246.31 833.10)">NUFIP1</text>
<text x="253.41" y="833.10" font-size="7.1" font-weight="bold" text-anchor="start" fill="#000" transform="rotate(-90 253.41 833.10)">HSPD1</text>
<text x="260.51" y="833.10" font-size="7.1" font-weight="bold" text-anchor="start" fill="#000" transform="rotate(-90 260.51 833.10)">PCOLCE2</text>
<text x="267.61" y="833.10" font-size="7.1" font-weight="bold" text-anchor="start" fill="#000" transform="rotate(-90 267.61 833.10)">JTV1</text>
<text x="274.71" y="833.10" font-size="7.1" font-weight="bold" text-anchor="start" fill="#000" transform="rotate(-90 274.71 833.10)">TAF4B</text>
<text x="281.81" y="833.10" font-size="7.1" font-weight="bold" text-anchor="start" fill="#000" transform="rotate(-90 281.81 833.10)">DDX10</text>
<text x="288.91" y="833.10" font-size="7.1" font-weight="bold" text-anchor="start" fill="#000" transform="rotate(-90 288.91 833.10)">UTP14A</text>
<text x="296.01" y="833.10" font-size="7.1" font-weight="bold" text-anchor="start" fill="#000" transform="rotate(-90 296.01 833.10)">ATIC</text>
<text x="303.11" y="833.10" font-size="7.1" font-weight="bold" text-anchor="start" fill="#000" transform="rotate(-90 303.11 833.10)">FLNB</text>
<text x="310.21" y="833.10" font-size="7.1" font-weight="bold" text-anchor="start" fill="#000" transform="rotate(-90 310.21 833.10)">NOL5A</text>
<text x="317.31" y="833.10" font-size="7.1" font-weight="bold" text-anchor="start" fill="#000" transform="rotate(-90 317.31 833.10)">PAICS</text>
<text x="324.41" y="833.10" font-size="7.1" font-weight="bold" text-anchor="start" fill="#000" transform="rotate(-90 324.41 833.10)">GPATC4</text>
<text x="331.51" y="833.10" font-size="7.1" font-weight="bold" text-anchor="start" fill="#000" transform="rotate(-90 331.51 833.10)">NOL1</text>
<text x="338.61" y="833.10" font-size="7.1" font-weight="bold" text-anchor="start" fill="#000" transform="rotate(-90 338.61 833.10)">NOLC1</text>
<text x="345.71" y="833.10" font-size="7.1" font-weight="bold" text-anchor="start" fill="#000" transform="rotate(-90 345.71 833.10)">GNL3</text>
<text x="352.81" y="833.10" font-size="7.1" font-weight="bold" text-anchor="start" fill="#000" transform="rotate(-90 352.81 833.10)">TMEM97</text>
<text x="359.91" y="833.10" font-size="7.1" font-weight="bold" text-anchor="start" fill="#000" transform="rotate(-90 359.91 833.10)">SLC19A1</text>
<text x="367.01" y="833.10" font-size="7.1" font-weight="bold" text-anchor="start" fill="#000" transform="rotate(-90 367.01 833.10)">DUSP2</text>
<text x="374.11" y="833.10" font-size="7.1" font-weight="bold" text-anchor="start" fill="#000" transform="rotate(-90 374.11 833.10)">RNU3IP2</text>
<text x="381.21" y="833.10" font-size="7.1" font-weight="bold" text-anchor="start" fill="#000" transform="rotate(-90 381.21 833.10)">CDK4</text>
<text x="388.31" y="833.10" font-size="7.1" font-weight="bold" text-anchor="start" fill="#000" transform="rotate(-90 388.31 833.10)">NOL6</text>
<text x="395.41" y="833.10" font-size="7.1" font-weight="bold" text-anchor="start" fill="#000" transform="rotate(-90 395.41 833.10)">HK2</text>
<text x="402.51" y="833.10" font-size="7.1" font-weight="bold" text-anchor="start" fill="#000" transform="rotate(-90 402.51 833.10)">EXOSC5</text>
<text x="409.61" y="833.10" font-size="7.1" font-weight="bold" text-anchor="start" fill="#000" transform="rotate(-90 409.61 833.10)">CIRH1A</text>
<text x="416.71" y="833.10" font-size="7.1" font-weight="bold" text-anchor="start" fill="#000" transform="rotate(-90 416.71 833.10)">NPM1</text>
<text x="423.81" y="833.10" font-size="7.1" font-weight="bold" text-anchor="start" fill="#000" transform="rotate(-90 423.81 833.10)">WDR74</text>
<text x="430.91" y="833.10" font-size="7.1" font-weight="bold" text-anchor="start" fill="#000" transform="rotate(-90 430.91 833.10)">SRM</text>
<text x="438.01" y="833.10" font-size="7.1" font-weight="bold" text-anchor="start" fill="#000" transform="rotate(-90 438.01 833.10)">METTL1</text>
<text x="445.11" y="833.10" font-size="7.1" font-weight="bold" text-anchor="start" fill="#000" transform="rotate(-90 445.11 833.10)">MYC</text>
<text x="452.21" y="833.10" font-size="7.1" font-weight="bold" text-anchor="start" fill="#000" transform="rotate(-90 452.21 833.10)">NLE1</text>
<text x="459.31" y="833.10" font-size="7.1" font-weight="bold" text-anchor="start" fill="#000" transform="rotate(-90 459.31 833.10)">IPO4</text>
<text x="466.41" y="833.10" font-size="7.1" font-weight="bold" text-anchor="start" fill="#000" transform="rotate(-90 466.41 833.10)">CCDC86</text>
<text x="473.51" y="833.10" font-size="7.1" font-weight="bold" text-anchor="start" fill="#000" transform="rotate(-90 473.51 833.10)">PES1</text>
<text x="480.61" y="833.10" font-size="7.1" font-weight="bold" text-anchor="start" fill="#000" transform="rotate(-90 480.61 833.10)">TRMT1</text>
<text x="487.71" y="833.10" font-size="7.1" font-weight="bold" text-anchor="start" fill="#000" transform="rotate(-90 487.71 833.10)">MYBBP1A</text>
<text x="494.81" y="833.10" font-size="7.1" font-weight="bold" text-anchor="start" fill="#000" transform="rotate(-90 494.81 833.10)">RCL1</text>
<text x="40.80" y="849.70" font-size="10.8" font-weight="bold" text-anchor="start" fill="#000">L</text>
<text x="39.80" y="870.50" font-size="10.8" font-weight="bold" text-anchor="start" fill="#000">P</text>
<path d="M58.70,836.00 L56.60,836.00 Q55.40,836.00 55.40,837.20 L55.40,844.40 Q55.40,845.60 52.60,845.60 Q55.40,845.60 55.40,846.80 L55.40,854.00 Q55.40,855.20 56.60,855.20 L58.70,855.20" fill="none" stroke="#1a1a1a" stroke-width="1.05"/>
<path d="M58.70,857.80 L56.60,857.80 Q55.40,857.80 55.40,859.00 L55.40,866.30 Q55.40,867.50 52.60,867.50 Q55.40,867.50 55.40,868.70 L55.40,876.00 Q55.40,877.20 56.60,877.20 L58.70,877.20" fill="none" stroke="#1a1a1a" stroke-width="1.05"/>
</svg></body></html>
